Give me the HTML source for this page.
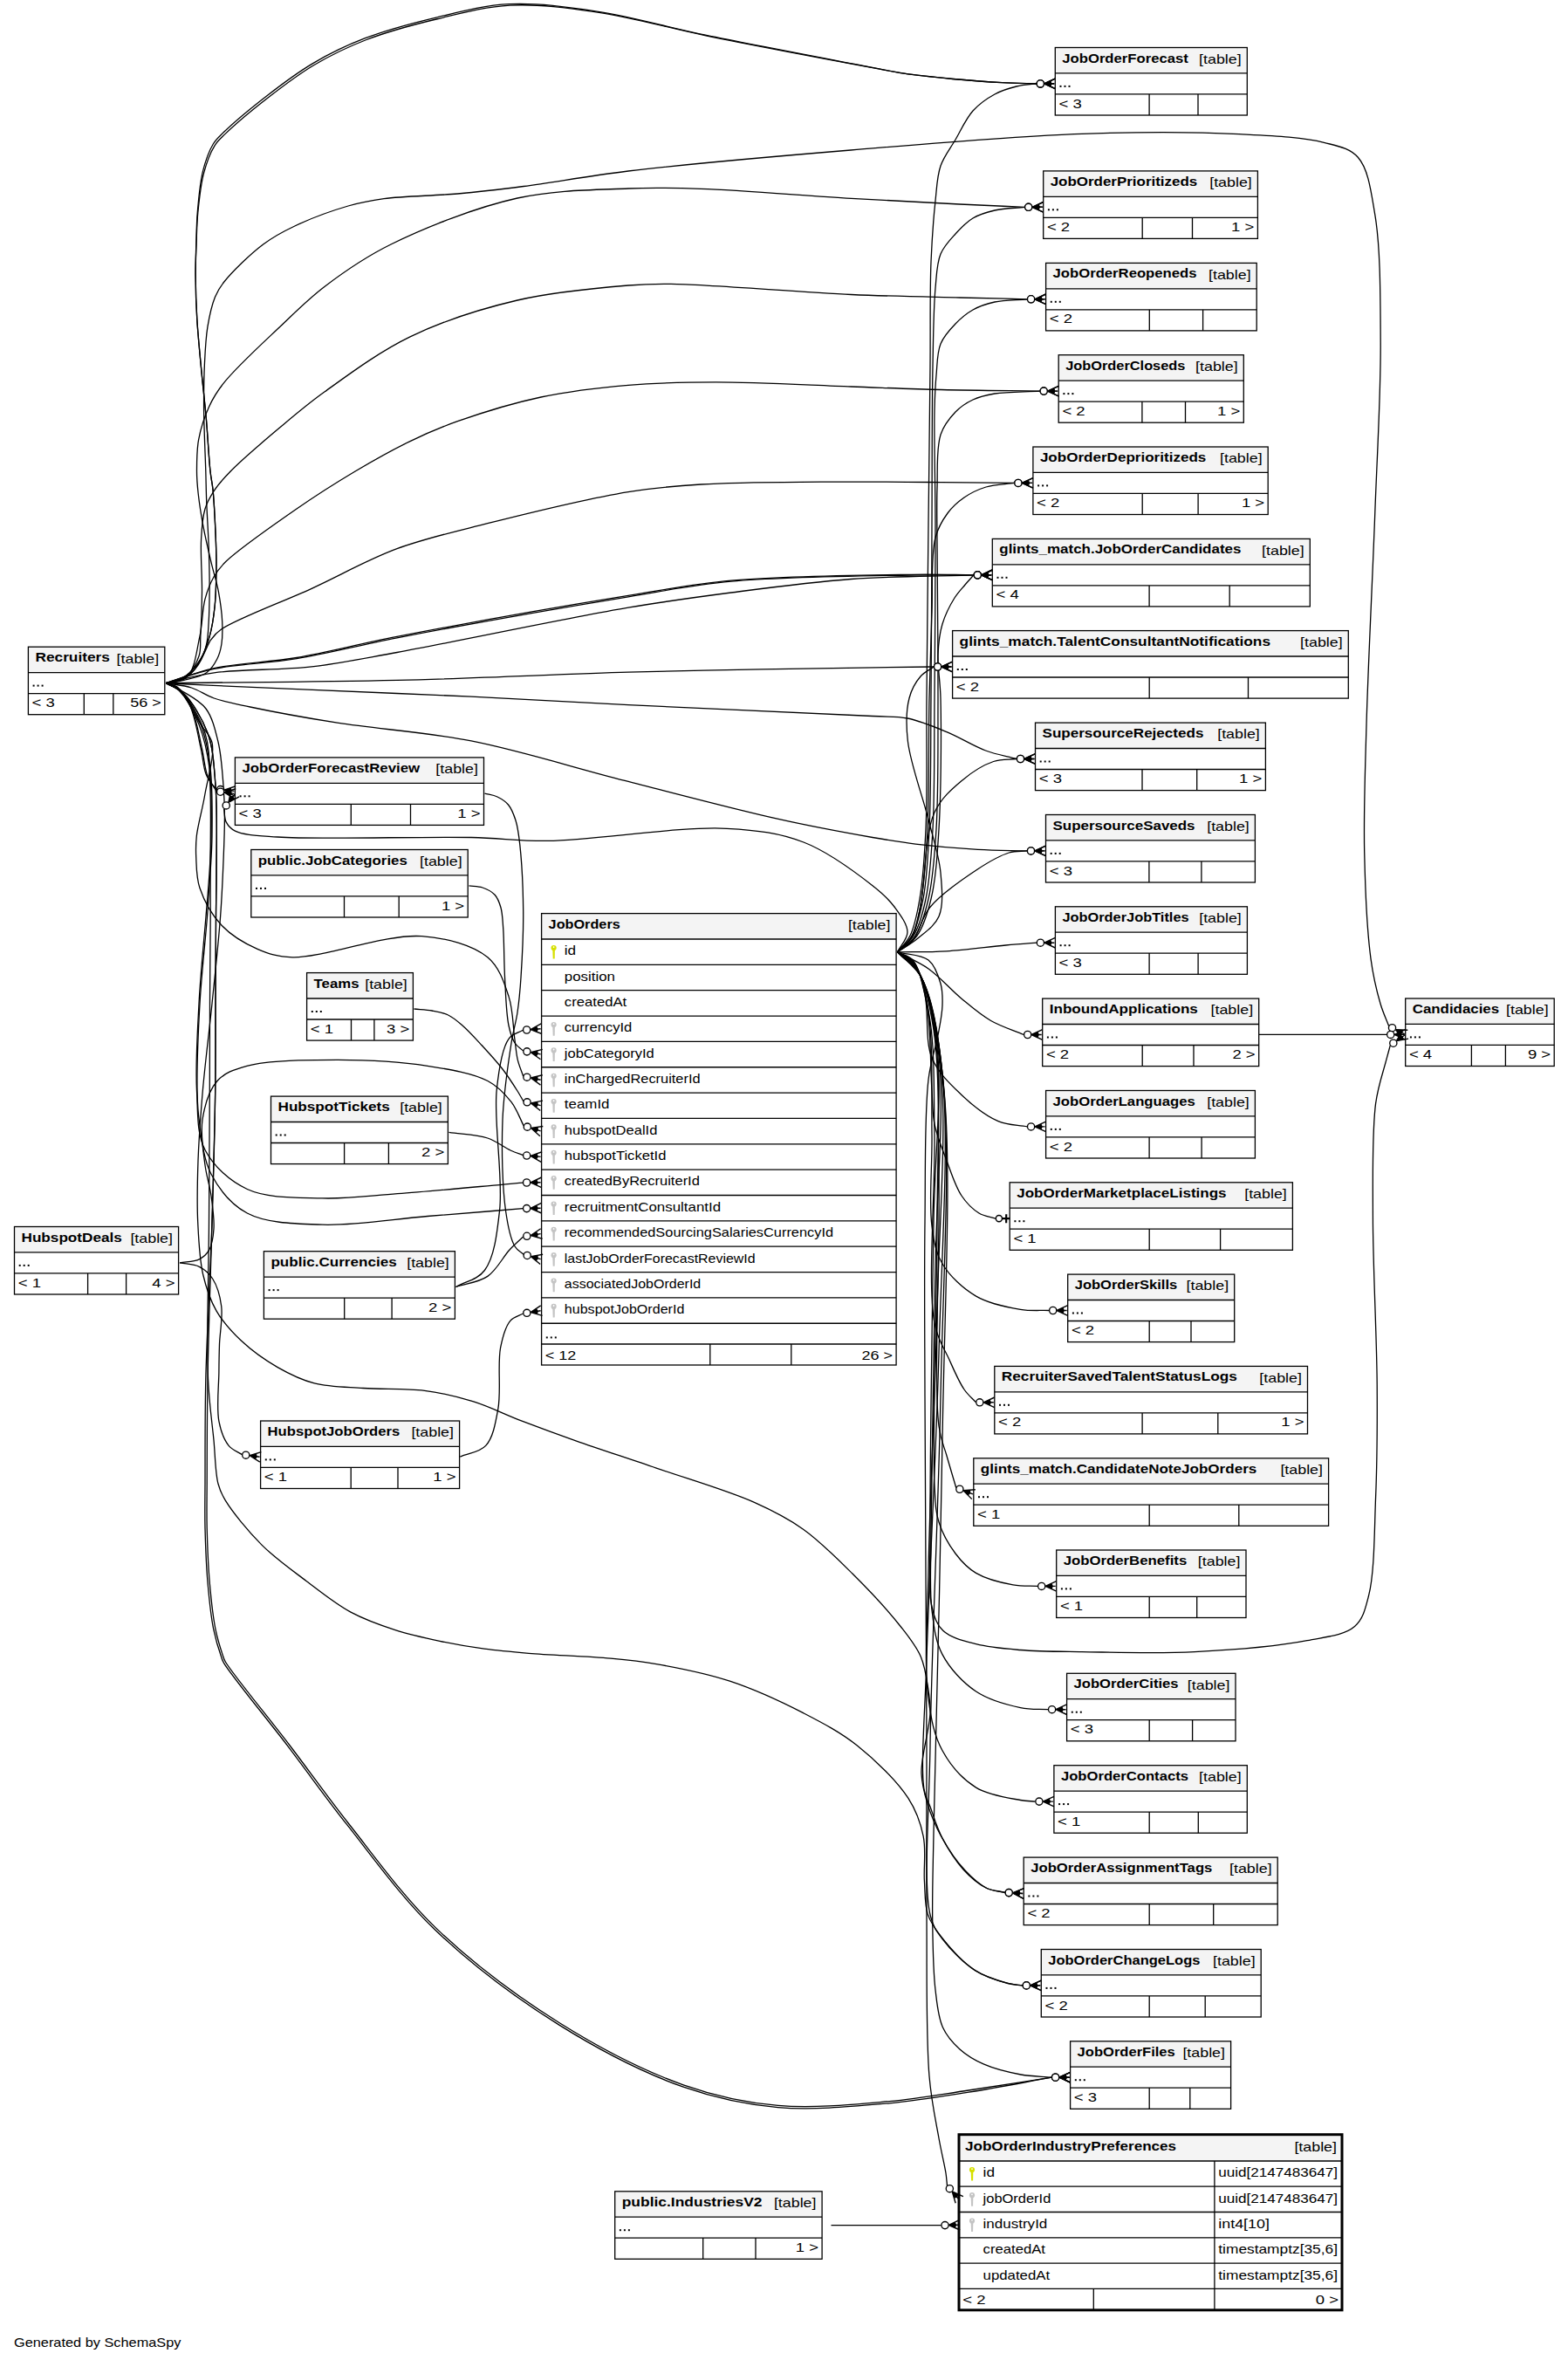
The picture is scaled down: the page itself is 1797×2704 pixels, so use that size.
<!DOCTYPE html>
<html><head><meta charset="utf-8"><style>
html,body{margin:0;padding:0;background:#fff;}
svg{display:block;}
text{font-family:"Liberation Sans",sans-serif;font-size:15px;fill:#000;stroke:none;}
</style></head><body>
<svg width="1797" height="2704" viewBox="0 0 1797 2704">
<g fill="none" stroke="#000" stroke-width="1.3">
<rect x="1209.30" y="54.50" width="220.00" height="29.40" fill="#f4f4f4" stroke="none"/>
<rect x="1209.30" y="54.50" width="220.00" height="77.50" fill="none" class="s"/>
<path d="M1209.30,83.90H1429.30M1209.30,107.90H1429.30M1317.10,107.90V132.00M1373.00,107.90V132.00" class="s"/>
<text x="1217.30" y="71.50" textLength="144.46" lengthAdjust="spacingAndGlyphs" font-weight="bold">JobOrderForecast</text>
<text x="1374.10" y="72.80" textLength="48.60" lengthAdjust="spacingAndGlyphs">[table]</text>
<rect x="1214.50" y="97.90" width="2.0" height="2.0" fill="#000" stroke="none"/>
<rect x="1219.50" y="97.90" width="2.0" height="2.0" fill="#000" stroke="none"/>
<rect x="1224.50" y="97.90" width="2.0" height="2.0" fill="#000" stroke="none"/>
<text x="1213.50" y="123.50" textLength="26.29" lengthAdjust="spacingAndGlyphs">&lt; 3</text>
<rect x="1195.70" y="195.90" width="245.70" height="29.40" fill="#f4f4f4" stroke="none"/>
<rect x="1195.70" y="195.90" width="245.70" height="77.50" fill="none" class="s"/>
<path d="M1195.70,225.30H1441.40M1195.70,249.30H1441.40M1309.20,249.30V273.40M1366.50,249.30V273.40" class="s"/>
<text x="1203.70" y="212.90" textLength="168.55" lengthAdjust="spacingAndGlyphs" font-weight="bold">JobOrderPrioritizeds</text>
<text x="1386.20" y="214.20" textLength="48.60" lengthAdjust="spacingAndGlyphs">[table]</text>
<rect x="1200.90" y="239.30" width="2.0" height="2.0" fill="#000" stroke="none"/>
<rect x="1205.90" y="239.30" width="2.0" height="2.0" fill="#000" stroke="none"/>
<rect x="1210.90" y="239.30" width="2.0" height="2.0" fill="#000" stroke="none"/>
<text x="1199.90" y="264.90" textLength="26.29" lengthAdjust="spacingAndGlyphs">&lt; 2</text>
<text x="1411.11" y="264.90" textLength="26.29" lengthAdjust="spacingAndGlyphs">1 &gt;</text>
<rect x="1198.60" y="301.40" width="241.60" height="29.40" fill="#f4f4f4" stroke="none"/>
<rect x="1198.60" y="301.40" width="241.60" height="77.50" fill="none" class="s"/>
<path d="M1198.60,330.80H1440.20M1198.60,354.80H1440.20M1317.30,354.80V378.90M1378.60,354.80V378.90" class="s"/>
<text x="1206.60" y="318.40" textLength="164.83" lengthAdjust="spacingAndGlyphs" font-weight="bold">JobOrderReopeneds</text>
<text x="1385.00" y="319.70" textLength="48.60" lengthAdjust="spacingAndGlyphs">[table]</text>
<rect x="1203.80" y="344.80" width="2.0" height="2.0" fill="#000" stroke="none"/>
<rect x="1208.80" y="344.80" width="2.0" height="2.0" fill="#000" stroke="none"/>
<rect x="1213.80" y="344.80" width="2.0" height="2.0" fill="#000" stroke="none"/>
<text x="1202.80" y="370.40" textLength="26.29" lengthAdjust="spacingAndGlyphs">&lt; 2</text>
<rect x="1213.20" y="406.70" width="212.10" height="29.40" fill="#f4f4f4" stroke="none"/>
<rect x="1213.20" y="406.70" width="212.10" height="77.50" fill="none" class="s"/>
<path d="M1213.20,436.10H1425.30M1213.20,460.10H1425.30M1308.90,460.10V484.20M1358.50,460.10V484.20" class="s"/>
<text x="1221.20" y="423.70" textLength="137.21" lengthAdjust="spacingAndGlyphs" font-weight="bold">JobOrderCloseds</text>
<text x="1370.10" y="425.00" textLength="48.60" lengthAdjust="spacingAndGlyphs">[table]</text>
<rect x="1218.40" y="450.10" width="2.0" height="2.0" fill="#000" stroke="none"/>
<rect x="1223.40" y="450.10" width="2.0" height="2.0" fill="#000" stroke="none"/>
<rect x="1228.40" y="450.10" width="2.0" height="2.0" fill="#000" stroke="none"/>
<text x="1217.40" y="475.70" textLength="26.29" lengthAdjust="spacingAndGlyphs">&lt; 2</text>
<text x="1395.01" y="475.70" textLength="26.29" lengthAdjust="spacingAndGlyphs">1 &gt;</text>
<rect x="1183.90" y="512.00" width="269.30" height="29.40" fill="#f4f4f4" stroke="none"/>
<rect x="1183.90" y="512.00" width="269.30" height="77.50" fill="none" class="s"/>
<path d="M1183.90,541.40H1453.20M1183.90,565.40H1453.20M1309.20,565.40V589.50M1373.10,565.40V589.50" class="s"/>
<text x="1191.90" y="529.00" textLength="190.42" lengthAdjust="spacingAndGlyphs" font-weight="bold">JobOrderDeprioritizeds</text>
<text x="1398.00" y="530.30" textLength="48.60" lengthAdjust="spacingAndGlyphs">[table]</text>
<rect x="1189.10" y="555.40" width="2.0" height="2.0" fill="#000" stroke="none"/>
<rect x="1194.10" y="555.40" width="2.0" height="2.0" fill="#000" stroke="none"/>
<rect x="1199.10" y="555.40" width="2.0" height="2.0" fill="#000" stroke="none"/>
<text x="1188.10" y="581.00" textLength="26.29" lengthAdjust="spacingAndGlyphs">&lt; 2</text>
<text x="1422.91" y="581.00" textLength="26.29" lengthAdjust="spacingAndGlyphs">1 &gt;</text>
<rect x="1137.30" y="617.40" width="364.00" height="29.40" fill="#f4f4f4" stroke="none"/>
<rect x="1137.30" y="617.40" width="364.00" height="77.50" fill="none" class="s"/>
<path d="M1137.30,646.80H1501.30M1137.30,670.80H1501.30M1317.10,670.80V694.90M1409.20,670.80V694.90" class="s"/>
<text x="1145.30" y="634.40" textLength="277.15" lengthAdjust="spacingAndGlyphs" font-weight="bold">glints_match.JobOrderCandidates</text>
<text x="1446.10" y="635.70" textLength="48.60" lengthAdjust="spacingAndGlyphs">[table]</text>
<rect x="1142.50" y="660.80" width="2.0" height="2.0" fill="#000" stroke="none"/>
<rect x="1147.50" y="660.80" width="2.0" height="2.0" fill="#000" stroke="none"/>
<rect x="1152.50" y="660.80" width="2.0" height="2.0" fill="#000" stroke="none"/>
<text x="1141.50" y="686.40" textLength="26.29" lengthAdjust="spacingAndGlyphs">&lt; 4</text>
<rect x="1091.60" y="722.60" width="453.70" height="29.40" fill="#f4f4f4" stroke="none"/>
<rect x="1091.60" y="722.60" width="453.70" height="77.50" fill="none" class="s"/>
<path d="M1091.60,752.00H1545.30M1091.60,776.00H1545.30M1317.20,776.00V800.10M1430.50,776.00V800.10" class="s"/>
<text x="1099.60" y="739.60" textLength="356.46" lengthAdjust="spacingAndGlyphs" font-weight="bold">glints_match.TalentConsultantNotifications</text>
<text x="1490.10" y="740.90" textLength="48.60" lengthAdjust="spacingAndGlyphs">[table]</text>
<rect x="1096.80" y="766.00" width="2.0" height="2.0" fill="#000" stroke="none"/>
<rect x="1101.80" y="766.00" width="2.0" height="2.0" fill="#000" stroke="none"/>
<rect x="1106.80" y="766.00" width="2.0" height="2.0" fill="#000" stroke="none"/>
<text x="1095.80" y="791.60" textLength="26.29" lengthAdjust="spacingAndGlyphs">&lt; 2</text>
<rect x="1186.50" y="828.10" width="263.90" height="29.40" fill="#f4f4f4" stroke="none"/>
<rect x="1186.50" y="828.10" width="263.90" height="77.50" fill="none" class="s"/>
<path d="M1186.50,857.50H1450.40M1186.50,881.50H1450.40M1309.00,881.50V905.60M1371.70,881.50V905.60" class="s"/>
<text x="1194.50" y="845.10" textLength="184.94" lengthAdjust="spacingAndGlyphs" font-weight="bold">SupersourceRejecteds</text>
<text x="1395.20" y="846.40" textLength="48.60" lengthAdjust="spacingAndGlyphs">[table]</text>
<rect x="1191.70" y="871.50" width="2.0" height="2.0" fill="#000" stroke="none"/>
<rect x="1196.70" y="871.50" width="2.0" height="2.0" fill="#000" stroke="none"/>
<rect x="1201.70" y="871.50" width="2.0" height="2.0" fill="#000" stroke="none"/>
<text x="1190.70" y="897.10" textLength="26.29" lengthAdjust="spacingAndGlyphs">&lt; 3</text>
<text x="1420.11" y="897.10" textLength="26.29" lengthAdjust="spacingAndGlyphs">1 &gt;</text>
<rect x="1198.50" y="933.50" width="239.90" height="29.40" fill="#f4f4f4" stroke="none"/>
<rect x="1198.50" y="933.50" width="239.90" height="77.50" fill="none" class="s"/>
<path d="M1198.50,962.90H1438.40M1198.50,986.90H1438.40M1316.90,986.90V1011.00M1376.90,986.90V1011.00" class="s"/>
<text x="1206.50" y="950.50" textLength="163.04" lengthAdjust="spacingAndGlyphs" font-weight="bold">SupersourceSaveds</text>
<text x="1383.20" y="951.80" textLength="48.60" lengthAdjust="spacingAndGlyphs">[table]</text>
<rect x="1203.70" y="976.90" width="2.0" height="2.0" fill="#000" stroke="none"/>
<rect x="1208.70" y="976.90" width="2.0" height="2.0" fill="#000" stroke="none"/>
<rect x="1213.70" y="976.90" width="2.0" height="2.0" fill="#000" stroke="none"/>
<text x="1202.70" y="1002.50" textLength="26.29" lengthAdjust="spacingAndGlyphs">&lt; 3</text>
<rect x="1209.40" y="1038.80" width="220.00" height="29.40" fill="#f4f4f4" stroke="none"/>
<rect x="1209.40" y="1038.80" width="220.00" height="77.50" fill="none" class="s"/>
<path d="M1209.40,1068.20H1429.40M1209.40,1092.20H1429.40M1317.10,1092.20V1116.30M1373.10,1092.20V1116.30" class="s"/>
<text x="1217.40" y="1055.80" textLength="145.22" lengthAdjust="spacingAndGlyphs" font-weight="bold">JobOrderJobTitles</text>
<text x="1374.20" y="1057.10" textLength="48.60" lengthAdjust="spacingAndGlyphs">[table]</text>
<rect x="1214.60" y="1082.20" width="2.0" height="2.0" fill="#000" stroke="none"/>
<rect x="1219.60" y="1082.20" width="2.0" height="2.0" fill="#000" stroke="none"/>
<rect x="1224.60" y="1082.20" width="2.0" height="2.0" fill="#000" stroke="none"/>
<text x="1213.60" y="1107.80" textLength="26.29" lengthAdjust="spacingAndGlyphs">&lt; 3</text>
<rect x="1194.70" y="1144.10" width="248.00" height="29.40" fill="#f4f4f4" stroke="none"/>
<rect x="1194.70" y="1144.10" width="248.00" height="77.50" fill="none" class="s"/>
<path d="M1194.70,1173.50H1442.70M1194.70,1197.50H1442.70M1309.20,1197.50V1221.60M1368.00,1197.50V1221.60" class="s"/>
<text x="1202.70" y="1161.10" textLength="170.17" lengthAdjust="spacingAndGlyphs" font-weight="bold">InboundApplications</text>
<text x="1387.50" y="1162.40" textLength="48.60" lengthAdjust="spacingAndGlyphs">[table]</text>
<rect x="1199.90" y="1187.50" width="2.0" height="2.0" fill="#000" stroke="none"/>
<rect x="1204.90" y="1187.50" width="2.0" height="2.0" fill="#000" stroke="none"/>
<rect x="1209.90" y="1187.50" width="2.0" height="2.0" fill="#000" stroke="none"/>
<text x="1198.90" y="1213.10" textLength="26.29" lengthAdjust="spacingAndGlyphs">&lt; 2</text>
<text x="1412.41" y="1213.10" textLength="26.29" lengthAdjust="spacingAndGlyphs">2 &gt;</text>
<rect x="1198.60" y="1249.50" width="239.80" height="29.40" fill="#f4f4f4" stroke="none"/>
<rect x="1198.60" y="1249.50" width="239.80" height="77.50" fill="none" class="s"/>
<path d="M1198.60,1278.90H1438.40M1198.60,1302.90H1438.40M1317.10,1302.90V1327.00M1377.10,1302.90V1327.00" class="s"/>
<text x="1206.60" y="1266.50" textLength="163.14" lengthAdjust="spacingAndGlyphs" font-weight="bold">JobOrderLanguages</text>
<text x="1383.20" y="1267.80" textLength="48.60" lengthAdjust="spacingAndGlyphs">[table]</text>
<rect x="1203.80" y="1292.90" width="2.0" height="2.0" fill="#000" stroke="none"/>
<rect x="1208.80" y="1292.90" width="2.0" height="2.0" fill="#000" stroke="none"/>
<rect x="1213.80" y="1292.90" width="2.0" height="2.0" fill="#000" stroke="none"/>
<text x="1202.80" y="1318.50" textLength="26.29" lengthAdjust="spacingAndGlyphs">&lt; 2</text>
<rect x="1157.20" y="1354.80" width="324.20" height="29.40" fill="#f4f4f4" stroke="none"/>
<rect x="1157.20" y="1354.80" width="324.20" height="77.50" fill="none" class="s"/>
<path d="M1157.20,1384.20H1481.40M1157.20,1408.20H1481.40M1317.20,1408.20V1432.30M1398.60,1408.20V1432.30" class="s"/>
<text x="1165.20" y="1371.80" textLength="240.38" lengthAdjust="spacingAndGlyphs" font-weight="bold">JobOrderMarketplaceListings</text>
<text x="1426.20" y="1373.10" textLength="48.60" lengthAdjust="spacingAndGlyphs">[table]</text>
<rect x="1162.40" y="1398.20" width="2.0" height="2.0" fill="#000" stroke="none"/>
<rect x="1167.40" y="1398.20" width="2.0" height="2.0" fill="#000" stroke="none"/>
<rect x="1172.40" y="1398.20" width="2.0" height="2.0" fill="#000" stroke="none"/>
<text x="1161.40" y="1423.80" textLength="26.29" lengthAdjust="spacingAndGlyphs">&lt; 1</text>
<rect x="1223.70" y="1460.10" width="191.00" height="29.40" fill="#f4f4f4" stroke="none"/>
<rect x="1223.70" y="1460.10" width="191.00" height="77.50" fill="none" class="s"/>
<path d="M1223.70,1489.50H1414.70M1223.70,1513.50H1414.70M1317.20,1513.50V1537.60M1365.00,1513.50V1537.60" class="s"/>
<text x="1231.70" y="1477.10" textLength="117.57" lengthAdjust="spacingAndGlyphs" font-weight="bold">JobOrderSkills</text>
<text x="1359.50" y="1478.40" textLength="48.60" lengthAdjust="spacingAndGlyphs">[table]</text>
<rect x="1228.90" y="1503.50" width="2.0" height="2.0" fill="#000" stroke="none"/>
<rect x="1233.90" y="1503.50" width="2.0" height="2.0" fill="#000" stroke="none"/>
<rect x="1238.90" y="1503.50" width="2.0" height="2.0" fill="#000" stroke="none"/>
<text x="1227.90" y="1529.10" textLength="26.29" lengthAdjust="spacingAndGlyphs">&lt; 2</text>
<rect x="1139.80" y="1565.40" width="358.70" height="29.40" fill="#f4f4f4" stroke="none"/>
<rect x="1139.80" y="1565.40" width="358.70" height="77.50" fill="none" class="s"/>
<path d="M1139.80,1594.80H1498.50M1139.80,1618.80H1498.50M1309.10,1618.80V1642.90M1395.80,1618.80V1642.90" class="s"/>
<text x="1147.80" y="1582.40" textLength="270.10" lengthAdjust="spacingAndGlyphs" font-weight="bold">RecruiterSavedTalentStatusLogs</text>
<text x="1443.30" y="1583.70" textLength="48.60" lengthAdjust="spacingAndGlyphs">[table]</text>
<rect x="1145.00" y="1608.80" width="2.0" height="2.0" fill="#000" stroke="none"/>
<rect x="1150.00" y="1608.80" width="2.0" height="2.0" fill="#000" stroke="none"/>
<rect x="1155.00" y="1608.80" width="2.0" height="2.0" fill="#000" stroke="none"/>
<text x="1144.00" y="1634.40" textLength="26.29" lengthAdjust="spacingAndGlyphs">&lt; 2</text>
<text x="1468.21" y="1634.40" textLength="26.29" lengthAdjust="spacingAndGlyphs">1 &gt;</text>
<rect x="1115.80" y="1670.80" width="406.80" height="29.40" fill="#f4f4f4" stroke="none"/>
<rect x="1115.80" y="1670.80" width="406.80" height="77.50" fill="none" class="s"/>
<path d="M1115.80,1700.20H1522.60M1115.80,1724.20H1522.60M1317.20,1724.20V1748.30M1419.80,1724.20V1748.30" class="s"/>
<text x="1123.80" y="1687.80" textLength="316.47" lengthAdjust="spacingAndGlyphs" font-weight="bold">glints_match.CandidateNoteJobOrders</text>
<text x="1467.40" y="1689.10" textLength="48.60" lengthAdjust="spacingAndGlyphs">[table]</text>
<rect x="1121.00" y="1714.20" width="2.0" height="2.0" fill="#000" stroke="none"/>
<rect x="1126.00" y="1714.20" width="2.0" height="2.0" fill="#000" stroke="none"/>
<rect x="1131.00" y="1714.20" width="2.0" height="2.0" fill="#000" stroke="none"/>
<text x="1120.00" y="1739.80" textLength="26.29" lengthAdjust="spacingAndGlyphs">&lt; 1</text>
<rect x="1210.70" y="1776.00" width="217.30" height="29.40" fill="#f4f4f4" stroke="none"/>
<rect x="1210.70" y="1776.00" width="217.30" height="77.50" fill="none" class="s"/>
<path d="M1210.70,1805.40H1428.00M1210.70,1829.40H1428.00M1317.20,1829.40V1853.50M1371.70,1829.40V1853.50" class="s"/>
<text x="1218.70" y="1793.00" textLength="141.57" lengthAdjust="spacingAndGlyphs" font-weight="bold">JobOrderBenefits</text>
<text x="1372.80" y="1794.30" textLength="48.60" lengthAdjust="spacingAndGlyphs">[table]</text>
<rect x="1215.90" y="1819.40" width="2.0" height="2.0" fill="#000" stroke="none"/>
<rect x="1220.90" y="1819.40" width="2.0" height="2.0" fill="#000" stroke="none"/>
<rect x="1225.90" y="1819.40" width="2.0" height="2.0" fill="#000" stroke="none"/>
<text x="1214.90" y="1845.00" textLength="26.29" lengthAdjust="spacingAndGlyphs">&lt; 1</text>
<rect x="1222.60" y="1917.30" width="193.40" height="29.40" fill="#f4f4f4" stroke="none"/>
<rect x="1222.60" y="1917.30" width="193.40" height="77.50" fill="none" class="s"/>
<path d="M1222.60,1946.70H1416.00M1222.60,1970.70H1416.00M1317.20,1970.70V1994.80M1366.60,1970.70V1994.80" class="s"/>
<text x="1230.60" y="1934.30" textLength="119.95" lengthAdjust="spacingAndGlyphs" font-weight="bold">JobOrderCities</text>
<text x="1360.80" y="1935.60" textLength="48.60" lengthAdjust="spacingAndGlyphs">[table]</text>
<rect x="1227.80" y="1960.70" width="2.0" height="2.0" fill="#000" stroke="none"/>
<rect x="1232.80" y="1960.70" width="2.0" height="2.0" fill="#000" stroke="none"/>
<rect x="1237.80" y="1960.70" width="2.0" height="2.0" fill="#000" stroke="none"/>
<text x="1226.80" y="1986.30" textLength="26.29" lengthAdjust="spacingAndGlyphs">&lt; 3</text>
<rect x="1207.90" y="2022.70" width="221.40" height="29.40" fill="#f4f4f4" stroke="none"/>
<rect x="1207.90" y="2022.70" width="221.40" height="77.50" fill="none" class="s"/>
<path d="M1207.90,2052.10H1429.30M1207.90,2076.10H1429.30M1317.20,2076.10V2100.20M1373.30,2076.10V2100.20" class="s"/>
<text x="1215.90" y="2039.70" textLength="146.07" lengthAdjust="spacingAndGlyphs" font-weight="bold">JobOrderContacts</text>
<text x="1374.10" y="2041.00" textLength="48.60" lengthAdjust="spacingAndGlyphs">[table]</text>
<rect x="1213.10" y="2066.10" width="2.0" height="2.0" fill="#000" stroke="none"/>
<rect x="1218.10" y="2066.10" width="2.0" height="2.0" fill="#000" stroke="none"/>
<rect x="1223.10" y="2066.10" width="2.0" height="2.0" fill="#000" stroke="none"/>
<text x="1212.10" y="2091.70" textLength="26.29" lengthAdjust="spacingAndGlyphs">&lt; 1</text>
<rect x="1173.20" y="2128.10" width="291.00" height="29.40" fill="#f4f4f4" stroke="none"/>
<rect x="1173.20" y="2128.10" width="291.00" height="77.50" fill="none" class="s"/>
<path d="M1173.20,2157.50H1464.20M1173.20,2181.50H1464.20M1317.20,2181.50V2205.60M1390.70,2181.50V2205.60" class="s"/>
<text x="1181.20" y="2145.10" textLength="208.16" lengthAdjust="spacingAndGlyphs" font-weight="bold">JobOrderAssignmentTags</text>
<text x="1409.00" y="2146.40" textLength="48.60" lengthAdjust="spacingAndGlyphs">[table]</text>
<rect x="1178.40" y="2171.50" width="2.0" height="2.0" fill="#000" stroke="none"/>
<rect x="1183.40" y="2171.50" width="2.0" height="2.0" fill="#000" stroke="none"/>
<rect x="1188.40" y="2171.50" width="2.0" height="2.0" fill="#000" stroke="none"/>
<text x="1177.40" y="2197.10" textLength="26.29" lengthAdjust="spacingAndGlyphs">&lt; 2</text>
<rect x="1193.30" y="2233.50" width="251.90" height="29.40" fill="#f4f4f4" stroke="none"/>
<rect x="1193.30" y="2233.50" width="251.90" height="77.50" fill="none" class="s"/>
<path d="M1193.30,2262.90H1445.20M1193.30,2286.90H1445.20M1317.20,2286.90V2311.00M1381.20,2286.90V2311.00" class="s"/>
<text x="1201.30" y="2250.50" textLength="174.09" lengthAdjust="spacingAndGlyphs" font-weight="bold">JobOrderChangeLogs</text>
<text x="1390.00" y="2251.80" textLength="48.60" lengthAdjust="spacingAndGlyphs">[table]</text>
<rect x="1198.50" y="2276.90" width="2.0" height="2.0" fill="#000" stroke="none"/>
<rect x="1203.50" y="2276.90" width="2.0" height="2.0" fill="#000" stroke="none"/>
<rect x="1208.50" y="2276.90" width="2.0" height="2.0" fill="#000" stroke="none"/>
<text x="1197.50" y="2302.50" textLength="26.29" lengthAdjust="spacingAndGlyphs">&lt; 2</text>
<rect x="1226.60" y="2338.80" width="184.00" height="29.40" fill="#f4f4f4" stroke="none"/>
<rect x="1226.60" y="2338.80" width="184.00" height="77.50" fill="none" class="s"/>
<path d="M1226.60,2368.20H1410.60M1226.60,2392.20H1410.60M1317.20,2392.20V2416.30M1363.80,2392.20V2416.30" class="s"/>
<text x="1234.60" y="2355.80" textLength="112.19" lengthAdjust="spacingAndGlyphs" font-weight="bold">JobOrderFiles</text>
<text x="1355.40" y="2357.10" textLength="48.60" lengthAdjust="spacingAndGlyphs">[table]</text>
<rect x="1231.80" y="2382.20" width="2.0" height="2.0" fill="#000" stroke="none"/>
<rect x="1236.80" y="2382.20" width="2.0" height="2.0" fill="#000" stroke="none"/>
<rect x="1241.80" y="2382.20" width="2.0" height="2.0" fill="#000" stroke="none"/>
<text x="1230.80" y="2407.80" textLength="26.29" lengthAdjust="spacingAndGlyphs">&lt; 3</text>
<rect x="32.40" y="741.20" width="156.40" height="29.40" fill="#f4f4f4" stroke="none"/>
<rect x="32.40" y="741.20" width="156.40" height="77.50" fill="none" class="s"/>
<path d="M32.40,770.60H188.80M32.40,794.60H188.80M96.30,794.60V818.70M129.80,794.60V818.70" class="s"/>
<text x="40.40" y="758.20" textLength="85.58" lengthAdjust="spacingAndGlyphs" font-weight="bold">Recruiters</text>
<text x="133.60" y="759.50" textLength="48.60" lengthAdjust="spacingAndGlyphs">[table]</text>
<rect x="37.60" y="784.60" width="2.0" height="2.0" fill="#000" stroke="none"/>
<rect x="42.60" y="784.60" width="2.0" height="2.0" fill="#000" stroke="none"/>
<rect x="47.60" y="784.60" width="2.0" height="2.0" fill="#000" stroke="none"/>
<text x="36.60" y="810.20" textLength="26.29" lengthAdjust="spacingAndGlyphs">&lt; 3</text>
<text x="149.18" y="810.20" textLength="35.62" lengthAdjust="spacingAndGlyphs">56 &gt;</text>
<rect x="269.40" y="867.90" width="285.10" height="29.40" fill="#f4f4f4" stroke="none"/>
<rect x="269.40" y="867.90" width="285.10" height="77.50" fill="none" class="s"/>
<path d="M269.40,897.30H554.50M269.40,921.30H554.50M402.30,921.30V945.40M470.50,921.30V945.40" class="s"/>
<text x="277.40" y="884.90" textLength="203.80" lengthAdjust="spacingAndGlyphs" font-weight="bold">JobOrderForecastReview</text>
<text x="499.30" y="886.20" textLength="48.60" lengthAdjust="spacingAndGlyphs">[table]</text>
<rect x="274.60" y="911.30" width="2.0" height="2.0" fill="#000" stroke="none"/>
<rect x="279.60" y="911.30" width="2.0" height="2.0" fill="#000" stroke="none"/>
<rect x="284.60" y="911.30" width="2.0" height="2.0" fill="#000" stroke="none"/>
<text x="273.60" y="936.90" textLength="26.29" lengthAdjust="spacingAndGlyphs">&lt; 3</text>
<text x="524.21" y="936.90" textLength="26.29" lengthAdjust="spacingAndGlyphs">1 &gt;</text>
<rect x="287.80" y="973.50" width="248.40" height="29.40" fill="#f4f4f4" stroke="none"/>
<rect x="287.80" y="973.50" width="248.40" height="77.50" fill="none" class="s"/>
<path d="M287.80,1002.90H536.20M287.80,1026.90H536.20M394.50,1026.90V1051.00M457.20,1026.90V1051.00" class="s"/>
<text x="295.80" y="990.50" textLength="170.96" lengthAdjust="spacingAndGlyphs" font-weight="bold">public.JobCategories</text>
<text x="481.00" y="991.80" textLength="48.60" lengthAdjust="spacingAndGlyphs">[table]</text>
<rect x="293.00" y="1016.90" width="2.0" height="2.0" fill="#000" stroke="none"/>
<rect x="298.00" y="1016.90" width="2.0" height="2.0" fill="#000" stroke="none"/>
<rect x="303.00" y="1016.90" width="2.0" height="2.0" fill="#000" stroke="none"/>
<text x="505.91" y="1042.50" textLength="26.29" lengthAdjust="spacingAndGlyphs">1 &gt;</text>
<rect x="351.60" y="1114.60" width="121.80" height="29.40" fill="#f4f4f4" stroke="none"/>
<rect x="351.60" y="1114.60" width="121.80" height="77.50" fill="none" class="s"/>
<path d="M351.60,1144.00H473.40M351.60,1168.00H473.40M402.50,1168.00V1192.10M428.90,1168.00V1192.10" class="s"/>
<text x="359.60" y="1131.60" textLength="51.93" lengthAdjust="spacingAndGlyphs" font-weight="bold">Teams</text>
<text x="418.20" y="1132.90" textLength="48.60" lengthAdjust="spacingAndGlyphs">[table]</text>
<rect x="356.80" y="1158.00" width="2.0" height="2.0" fill="#000" stroke="none"/>
<rect x="361.80" y="1158.00" width="2.0" height="2.0" fill="#000" stroke="none"/>
<rect x="366.80" y="1158.00" width="2.0" height="2.0" fill="#000" stroke="none"/>
<text x="355.80" y="1183.60" textLength="26.29" lengthAdjust="spacingAndGlyphs">&lt; 1</text>
<text x="443.11" y="1183.60" textLength="26.29" lengthAdjust="spacingAndGlyphs">3 &gt;</text>
<rect x="310.50" y="1256.10" width="202.90" height="29.40" fill="#f4f4f4" stroke="none"/>
<rect x="310.50" y="1256.10" width="202.90" height="77.50" fill="none" class="s"/>
<path d="M310.50,1285.50H513.40M310.50,1309.50H513.40M394.60,1309.50V1333.60M445.40,1309.50V1333.60" class="s"/>
<text x="318.50" y="1273.10" textLength="128.33" lengthAdjust="spacingAndGlyphs" font-weight="bold">HubspotTickets</text>
<text x="458.20" y="1274.40" textLength="48.60" lengthAdjust="spacingAndGlyphs">[table]</text>
<rect x="315.70" y="1299.50" width="2.0" height="2.0" fill="#000" stroke="none"/>
<rect x="320.70" y="1299.50" width="2.0" height="2.0" fill="#000" stroke="none"/>
<rect x="325.70" y="1299.50" width="2.0" height="2.0" fill="#000" stroke="none"/>
<text x="483.11" y="1325.10" textLength="26.29" lengthAdjust="spacingAndGlyphs">2 &gt;</text>
<rect x="16.50" y="1405.50" width="188.10" height="29.40" fill="#f4f4f4" stroke="none"/>
<rect x="16.50" y="1405.50" width="188.10" height="77.50" fill="none" class="s"/>
<path d="M16.50,1434.90H204.60M16.50,1458.90H204.60M100.60,1458.90V1483.00M144.60,1458.90V1483.00" class="s"/>
<text x="24.50" y="1422.50" textLength="115.33" lengthAdjust="spacingAndGlyphs" font-weight="bold">HubspotDeals</text>
<text x="149.40" y="1423.80" textLength="48.60" lengthAdjust="spacingAndGlyphs">[table]</text>
<rect x="21.70" y="1448.90" width="2.0" height="2.0" fill="#000" stroke="none"/>
<rect x="26.70" y="1448.90" width="2.0" height="2.0" fill="#000" stroke="none"/>
<rect x="31.70" y="1448.90" width="2.0" height="2.0" fill="#000" stroke="none"/>
<text x="20.70" y="1474.50" textLength="26.29" lengthAdjust="spacingAndGlyphs">&lt; 1</text>
<text x="174.31" y="1474.50" textLength="26.29" lengthAdjust="spacingAndGlyphs">4 &gt;</text>
<rect x="302.40" y="1433.70" width="219.00" height="29.40" fill="#f4f4f4" stroke="none"/>
<rect x="302.40" y="1433.70" width="219.00" height="77.50" fill="none" class="s"/>
<path d="M302.40,1463.10H521.40M302.40,1487.10H521.40M394.70,1487.10V1511.20M449.10,1487.10V1511.20" class="s"/>
<text x="310.40" y="1450.70" textLength="144.25" lengthAdjust="spacingAndGlyphs" font-weight="bold">public.Currencies</text>
<text x="466.20" y="1452.00" textLength="48.60" lengthAdjust="spacingAndGlyphs">[table]</text>
<rect x="307.60" y="1477.10" width="2.0" height="2.0" fill="#000" stroke="none"/>
<rect x="312.60" y="1477.10" width="2.0" height="2.0" fill="#000" stroke="none"/>
<rect x="317.60" y="1477.10" width="2.0" height="2.0" fill="#000" stroke="none"/>
<text x="491.11" y="1502.70" textLength="26.29" lengthAdjust="spacingAndGlyphs">2 &gt;</text>
<rect x="298.60" y="1628.00" width="228.00" height="29.40" fill="#f4f4f4" stroke="none"/>
<rect x="298.60" y="1628.00" width="228.00" height="77.50" fill="none" class="s"/>
<path d="M298.60,1657.40H526.60M298.60,1681.40H526.60M402.20,1681.40V1705.50M456.00,1681.40V1705.50" class="s"/>
<text x="306.60" y="1645.00" textLength="151.70" lengthAdjust="spacingAndGlyphs" font-weight="bold">HubspotJobOrders</text>
<text x="471.40" y="1646.30" textLength="48.60" lengthAdjust="spacingAndGlyphs">[table]</text>
<rect x="303.80" y="1671.40" width="2.0" height="2.0" fill="#000" stroke="none"/>
<rect x="308.80" y="1671.40" width="2.0" height="2.0" fill="#000" stroke="none"/>
<rect x="313.80" y="1671.40" width="2.0" height="2.0" fill="#000" stroke="none"/>
<text x="302.80" y="1697.00" textLength="26.29" lengthAdjust="spacingAndGlyphs">&lt; 1</text>
<text x="496.31" y="1697.00" textLength="26.29" lengthAdjust="spacingAndGlyphs">1 &gt;</text>
<rect x="704.70" y="2510.80" width="237.40" height="29.40" fill="#f4f4f4" stroke="none"/>
<rect x="704.70" y="2510.80" width="237.40" height="77.50" fill="none" class="s"/>
<path d="M704.70,2540.20H942.10M704.70,2564.20H942.10M805.70,2564.20V2588.30M866.00,2564.20V2588.30" class="s"/>
<text x="712.70" y="2527.80" textLength="160.86" lengthAdjust="spacingAndGlyphs" font-weight="bold">public.IndustriesV2</text>
<text x="886.90" y="2529.10" textLength="48.60" lengthAdjust="spacingAndGlyphs">[table]</text>
<rect x="709.90" y="2554.20" width="2.0" height="2.0" fill="#000" stroke="none"/>
<rect x="714.90" y="2554.20" width="2.0" height="2.0" fill="#000" stroke="none"/>
<rect x="719.90" y="2554.20" width="2.0" height="2.0" fill="#000" stroke="none"/>
<text x="911.81" y="2579.80" textLength="26.29" lengthAdjust="spacingAndGlyphs">1 &gt;</text>
<rect x="1610.70" y="1144.00" width="170.50" height="29.40" fill="#f4f4f4" stroke="none"/>
<rect x="1610.70" y="1144.00" width="170.50" height="77.50" fill="none" class="s"/>
<path d="M1610.70,1173.40H1781.20M1610.70,1197.40H1781.20M1686.40,1197.40V1221.50M1725.40,1197.40V1221.50" class="s"/>
<text x="1618.70" y="1161.00" textLength="99.45" lengthAdjust="spacingAndGlyphs" font-weight="bold">Candidacies</text>
<text x="1726.00" y="1162.30" textLength="48.60" lengthAdjust="spacingAndGlyphs">[table]</text>
<rect x="1615.90" y="1187.40" width="2.0" height="2.0" fill="#000" stroke="none"/>
<rect x="1620.90" y="1187.40" width="2.0" height="2.0" fill="#000" stroke="none"/>
<rect x="1625.90" y="1187.40" width="2.0" height="2.0" fill="#000" stroke="none"/>
<text x="1614.90" y="1213.00" textLength="26.29" lengthAdjust="spacingAndGlyphs">&lt; 4</text>
<text x="1750.91" y="1213.00" textLength="26.29" lengthAdjust="spacingAndGlyphs">9 &gt;</text>
<rect x="620.6" y="1046.6" width="406.50" height="29.40" fill="#f4f4f4" stroke="none"/>
<rect x="620.6" y="1046.6" width="406.50" height="517.40" fill="none" class="s"/>
<path d="M620.6,1076.0H1027.1M620.6,1105.35H1027.1M620.6,1134.70H1027.1M620.6,1164.05H1027.1M620.6,1193.40H1027.1M620.6,1222.75H1027.1M620.6,1252.10H1027.1M620.6,1281.45H1027.1M620.6,1310.80H1027.1M620.6,1340.15H1027.1M620.6,1369.50H1027.1M620.6,1398.85H1027.1M620.6,1428.20H1027.1M620.6,1457.55H1027.1M620.6,1486.90H1027.1M620.6,1516.25H1027.1M620.6,1540.0H1027.1M813.8,1540.0V1564.0M906.8,1540.0V1564.0" class="s"/>
<text x="628.60" y="1063.90" textLength="82.16" lengthAdjust="spacingAndGlyphs" font-weight="bold">JobOrders</text>
<text x="971.90" y="1065.20" textLength="48.60" lengthAdjust="spacingAndGlyphs">[table]</text>
<g fill="#d6e000" stroke="none"><circle cx="634.60" cy="1086.00" r="3.1"/><path d="M633.30,1088.00L635.90,1088.00L635.70,1098.60L633.70,1098.60Z"/></g><circle cx="634.60" cy="1085.10" r="0.9" fill="#fff" stroke="none"/>
<text x="646.80" y="1094.30" textLength="13.39" lengthAdjust="spacingAndGlyphs">id</text>
<text x="646.80" y="1123.65" textLength="58.11" lengthAdjust="spacingAndGlyphs">position</text>
<text x="646.80" y="1153.00" textLength="71.41" lengthAdjust="spacingAndGlyphs">createdAt</text>
<g fill="#c4c4c4" stroke="none"><circle cx="634.60" cy="1174.05" r="3.1"/><path d="M633.30,1176.05L635.90,1176.05L635.70,1186.65L633.70,1186.65Z"/></g><circle cx="634.60" cy="1173.15" r="0.9" fill="#fff" stroke="none"/>
<text x="646.80" y="1182.35" textLength="77.56" lengthAdjust="spacingAndGlyphs">currencyId</text>
<g fill="#c4c4c4" stroke="none"><circle cx="634.60" cy="1203.40" r="3.1"/><path d="M633.30,1205.40L635.90,1205.40L635.70,1216.00L633.70,1216.00Z"/></g><circle cx="634.60" cy="1202.50" r="0.9" fill="#fff" stroke="none"/>
<text x="646.80" y="1211.70" textLength="103.02" lengthAdjust="spacingAndGlyphs">jobCategoryId</text>
<g fill="#c4c4c4" stroke="none"><circle cx="634.60" cy="1232.75" r="3.1"/><path d="M633.30,1234.75L635.90,1234.75L635.70,1245.35L633.70,1245.35Z"/></g><circle cx="634.60" cy="1231.85" r="0.9" fill="#fff" stroke="none"/>
<text x="646.80" y="1241.05" textLength="155.81" lengthAdjust="spacingAndGlyphs">inChargedRecruiterId</text>
<g fill="#c4c4c4" stroke="none"><circle cx="634.60" cy="1262.10" r="3.1"/><path d="M633.30,1264.10L635.90,1264.10L635.70,1274.70L633.70,1274.70Z"/></g><circle cx="634.60" cy="1261.20" r="0.9" fill="#fff" stroke="none"/>
<text x="646.80" y="1270.40" textLength="51.70" lengthAdjust="spacingAndGlyphs">teamId</text>
<g fill="#c4c4c4" stroke="none"><circle cx="634.60" cy="1291.45" r="3.1"/><path d="M633.30,1293.45L635.90,1293.45L635.70,1304.05L633.70,1304.05Z"/></g><circle cx="634.60" cy="1290.55" r="0.9" fill="#fff" stroke="none"/>
<text x="646.80" y="1299.75" textLength="106.62" lengthAdjust="spacingAndGlyphs">hubspotDealId</text>
<g fill="#c4c4c4" stroke="none"><circle cx="634.60" cy="1320.80" r="3.1"/><path d="M633.30,1322.80L635.90,1322.80L635.70,1333.40L633.70,1333.40Z"/></g><circle cx="634.60" cy="1319.90" r="0.9" fill="#fff" stroke="none"/>
<text x="646.80" y="1329.10" textLength="116.63" lengthAdjust="spacingAndGlyphs">hubspotTicketId</text>
<g fill="#c4c4c4" stroke="none"><circle cx="634.60" cy="1350.15" r="3.1"/><path d="M633.30,1352.15L635.90,1352.15L635.70,1362.75L633.70,1362.75Z"/></g><circle cx="634.60" cy="1349.25" r="0.9" fill="#fff" stroke="none"/>
<text x="646.80" y="1358.45" textLength="155.11" lengthAdjust="spacingAndGlyphs">createdByRecruiterId</text>
<g fill="#c4c4c4" stroke="none"><circle cx="634.60" cy="1379.50" r="3.1"/><path d="M633.30,1381.50L635.90,1381.50L635.70,1392.10L633.70,1392.10Z"/></g><circle cx="634.60" cy="1378.60" r="0.9" fill="#fff" stroke="none"/>
<text x="646.80" y="1387.80" textLength="179.28" lengthAdjust="spacingAndGlyphs">recruitmentConsultantId</text>
<g fill="#c4c4c4" stroke="none"><circle cx="634.60" cy="1408.85" r="3.1"/><path d="M633.30,1410.85L635.90,1410.85L635.70,1421.45L633.70,1421.45Z"/></g><circle cx="634.60" cy="1407.95" r="0.9" fill="#fff" stroke="none"/>
<text x="646.80" y="1417.15" textLength="308.26" lengthAdjust="spacingAndGlyphs">recommendedSourcingSalariesCurrencyId</text>
<g fill="#c4c4c4" stroke="none"><circle cx="634.60" cy="1438.20" r="3.1"/><path d="M633.30,1440.20L635.90,1440.20L635.70,1450.80L633.70,1450.80Z"/></g><circle cx="634.60" cy="1437.30" r="0.9" fill="#fff" stroke="none"/>
<text x="646.80" y="1446.50" textLength="218.83" lengthAdjust="spacingAndGlyphs">lastJobOrderForecastReviewId</text>
<g fill="#c4c4c4" stroke="none"><circle cx="634.60" cy="1467.55" r="3.1"/><path d="M633.30,1469.55L635.90,1469.55L635.70,1480.15L633.70,1480.15Z"/></g><circle cx="634.60" cy="1466.65" r="0.9" fill="#fff" stroke="none"/>
<text x="646.80" y="1475.85" textLength="156.42" lengthAdjust="spacingAndGlyphs">associatedJobOrderId</text>
<g fill="#c4c4c4" stroke="none"><circle cx="634.60" cy="1496.90" r="3.1"/><path d="M633.30,1498.90L635.90,1498.90L635.70,1509.50L633.70,1509.50Z"/></g><circle cx="634.60" cy="1496.00" r="0.9" fill="#fff" stroke="none"/>
<text x="646.80" y="1505.20" textLength="137.54" lengthAdjust="spacingAndGlyphs">hubspotJobOrderId</text>
<rect x="625.80" y="1531.45" width="2.0" height="2.0" fill="#000" stroke="none"/>
<rect x="630.80" y="1531.45" width="2.0" height="2.0" fill="#000" stroke="none"/>
<rect x="635.80" y="1531.45" width="2.0" height="2.0" fill="#000" stroke="none"/>
<text x="624.80" y="1557.50" textLength="35.62" lengthAdjust="spacingAndGlyphs">&lt; 12</text>
<text x="987.48" y="1557.50" textLength="35.62" lengthAdjust="spacingAndGlyphs">26 &gt;</text>
<rect x="1099.0" y="2445.7" width="439.00" height="30.30" fill="#f4f4f4" stroke="none"/>
<path d="M1099.0,2476.0H1538.0M1099.0,2505.2H1538.0M1099.0,2534.5H1538.0M1099.0,2563.8H1538.0M1099.0,2593.1H1538.0M1099.0,2622.4H1538.0M1391.9,2476.0V2646.8M1253.3,2622.4V2646.8" class="s"/>
<rect x="1099.0" y="2445.7" width="439.00" height="201.10" fill="none" stroke-width="3"/>
<text x="1106.00" y="2463.80" textLength="242.09" lengthAdjust="spacingAndGlyphs" font-weight="bold">JobOrderIndustryPreferences</text>
<text x="1483.40" y="2465.10" textLength="48.60" lengthAdjust="spacingAndGlyphs">[table]</text>
<g fill="#d6e000" stroke="none"><circle cx="1114.00" cy="2486.00" r="3.1"/><path d="M1112.70,2488.00L1115.30,2488.00L1115.10,2498.60L1113.10,2498.60Z"/></g><circle cx="1114.00" cy="2485.10" r="0.9" fill="#fff" stroke="none"/>
<text x="1126.60" y="2494.40" textLength="13.39" lengthAdjust="spacingAndGlyphs">id</text>
<text x="1396.30" y="2494.40" textLength="136.77" lengthAdjust="spacingAndGlyphs">uuid[2147483647]</text>
<g fill="#c4c4c4" stroke="none"><circle cx="1114.00" cy="2515.20" r="3.1"/><path d="M1112.70,2517.20L1115.30,2517.20L1115.10,2527.80L1113.10,2527.80Z"/></g><circle cx="1114.00" cy="2514.30" r="0.9" fill="#fff" stroke="none"/>
<text x="1126.60" y="2523.60" textLength="77.70" lengthAdjust="spacingAndGlyphs">jobOrderId</text>
<text x="1396.30" y="2523.60" textLength="136.77" lengthAdjust="spacingAndGlyphs">uuid[2147483647]</text>
<g fill="#c4c4c4" stroke="none"><circle cx="1114.00" cy="2544.50" r="3.1"/><path d="M1112.70,2546.50L1115.30,2546.50L1115.10,2557.10L1113.10,2557.10Z"/></g><circle cx="1114.00" cy="2543.60" r="0.9" fill="#fff" stroke="none"/>
<text x="1126.60" y="2552.90" textLength="73.73" lengthAdjust="spacingAndGlyphs">industryId</text>
<text x="1396.30" y="2552.90" textLength="58.57" lengthAdjust="spacingAndGlyphs">int4[10]</text>
<text x="1126.60" y="2582.20" textLength="71.41" lengthAdjust="spacingAndGlyphs">createdAt</text>
<text x="1396.30" y="2582.20" textLength="136.69" lengthAdjust="spacingAndGlyphs">timestamptz[35,6]</text>
<text x="1126.60" y="2611.50" textLength="76.53" lengthAdjust="spacingAndGlyphs">updatedAt</text>
<text x="1396.30" y="2611.50" textLength="136.69" lengthAdjust="spacingAndGlyphs">timestamptz[35,6]</text>
<text x="1103.20" y="2639.90" textLength="26.29" lengthAdjust="spacingAndGlyphs">&lt; 2</text>
<text x="1507.71" y="2639.90" textLength="26.29" lengthAdjust="spacingAndGlyphs">0 &gt;</text>
<text x="16.00" y="2689.40" textLength="191.44" lengthAdjust="spacingAndGlyphs">Generated by SchemaSpy</text>
<path d="M190.3,782.7C197.1,780.4 204.6,779.9 210.8,775.9C217.9,771.3 224.9,763.1 229.8,755.3C234.7,747.6 237.4,738.8 240.1,729.4C243.1,718.9 244.8,707.7 246.1,695.0C247.7,679.6 247.9,660.5 247.9,643.3C247.9,626.1 246.9,606.8 246.1,591.7C245.5,579.8 244.9,569.3 243.9,560.0C243.1,552.6 241.9,548.5 241.0,540.0C239.3,525.0 238.0,497.7 236.2,478.0C234.6,460.0 232.7,444.3 231.0,426.4C229.2,407.1 227.0,385.4 225.8,366.1C224.7,348.2 224.2,329.9 224.1,314.4C224.1,301.8 224.6,291.6 225.0,280.0C225.5,268.1 225.5,256.5 226.8,243.7C228.2,229.3 230.0,211.4 233.7,197.8C236.8,186.3 241.0,175.0 245.9,167.1C249.5,161.2 252.5,159.0 258.2,153.4C268.9,143.0 290.2,125.1 307.1,112.0C324.1,98.8 341.3,85.5 360.0,74.5C378.9,63.3 398.2,53.9 420.0,45.5C444.4,36.1 472.8,28.5 500.0,22.0C527.6,15.4 554.9,7.7 584.5,6.1C616.8,4.4 651.1,9.1 686.5,14.3C725.6,20.1 763.6,31.5 809.0,40.8C865.6,52.4 961.4,70.4 1000.0,77.6C1016.8,80.7 1022.7,82.2 1036.1,84.2C1052.7,86.6 1073.5,88.7 1092.2,90.5C1110.9,92.2 1131.3,93.8 1148.4,94.7C1162.7,95.5 1174.8,95.6 1188.0,96.0"/>
<path d="M190.3,782.7C197.1,780.4 204.6,779.9 210.8,775.9C217.9,771.3 224.9,763.1 229.8,755.3C234.7,747.6 237.4,738.8 240.1,729.4C243.1,718.9 244.8,707.7 246.1,695.0C247.7,679.6 247.9,660.5 247.9,643.3C247.9,626.1 246.9,606.8 246.1,591.7C245.5,579.8 244.9,569.3 243.9,560.0C243.1,552.6 241.9,548.5 241.0,540.0C239.3,525.0 238.0,497.7 236.2,478.0C234.6,460.0 232.7,444.3 231.0,426.4C229.2,407.1 227.0,385.4 225.8,366.1C224.7,348.2 224.2,329.9 224.1,314.4C224.0,301.7 224.5,291.5 224.8,279.8C225.2,267.7 225.2,256.0 226.3,243.1C227.6,228.4 229.0,210.1 232.5,196.2C235.4,184.6 239.5,173.0 244.3,165.0C247.9,159.1 250.9,156.9 256.6,151.3C267.3,141.0 288.7,123.1 305.6,110.0C322.6,96.8 339.9,83.6 358.6,72.6C377.5,61.4 396.8,52.0 418.6,43.7C443.1,34.3 471.5,26.8 498.7,20.3C526.4,13.7 553.8,6.1 583.4,4.7C615.8,3.1 650.2,7.9 685.7,13.3C725.0,19.2 763.0,30.8 808.5,40.2C865.2,51.9 961.1,69.9 999.8,77.4C1016.7,80.6 1022.7,82.2 1036.1,84.2C1052.7,86.7 1073.5,88.7 1092.2,90.5C1110.9,92.2 1131.3,93.8 1148.4,94.7C1162.7,95.5 1174.8,95.6 1188.0,96.0"/>
<path d="M190.3,782.7C197.1,781.0 204.7,781.1 210.8,777.6C217.4,773.9 223.7,767.0 228.0,760.4C232.3,753.8 234.8,745.9 236.7,738.0C238.6,729.8 238.6,721.4 239.2,712.2C239.9,701.6 240.0,690.4 240.1,677.8C240.2,662.3 239.8,643.3 239.2,626.1C238.6,608.9 237.3,589.9 236.7,574.4C236.2,561.8 236.2,553.5 235.8,540.0C235.2,520.7 233.8,491.1 233.6,469.4C233.5,450.9 233.6,434.2 234.4,417.8C235.1,402.8 235.7,388.2 237.9,374.7C239.9,362.5 242.7,349.6 246.5,340.3C249.4,333.3 251.5,329.6 256.8,323.0C266.1,311.3 286.8,291.1 301.6,280.0C313.8,270.9 323.8,265.6 337.8,259.0C355.2,250.7 380.4,241.4 399.0,236.0C413.8,231.7 423.8,229.8 440.0,227.6C463.0,224.5 497.1,224.4 524.4,222.0C550.3,219.7 571.9,217.1 600.0,213.5C635.4,208.9 672.5,201.7 720.0,196.0C789.1,187.7 889.1,179.1 975.0,172.0C1062.4,164.8 1160.1,156.0 1240.0,153.3C1305.7,151.0 1369.2,151.0 1420.0,153.6C1457.5,155.5 1492.6,156.8 1517.4,163.3C1533.7,167.6 1546.8,169.5 1556.3,180.3C1568.4,194.0 1571.3,219.5 1575.8,246.1C1582.3,284.9 1581.9,340.0 1582.2,392.2C1582.5,452.5 1578.3,518.5 1575.8,587.0C1573.0,663.6 1568.0,759.6 1566.0,830.4C1564.5,885.3 1562.7,930.0 1563.7,976.5C1564.6,1019.0 1566.7,1066.4 1571.0,1098.3C1573.8,1119.3 1577.9,1135.9 1582.0,1150.0C1585.0,1160.2 1588.5,1167.2 1591.7,1175.8"/>
<path d="M190.3,782.7C197.1,781.6 203.6,781.2 210.8,779.4C219.0,777.4 230.2,775.4 236.7,770.8C242.2,766.9 245.8,760.9 248.7,755.3C251.5,749.9 252.9,744.4 253.9,738.0C255.1,730.3 255.1,721.4 254.7,712.2C254.2,701.5 252.5,689.2 250.4,677.8C248.2,666.2 244.6,655.5 241.8,643.3C238.6,629.8 234.9,613.9 232.4,600.3C230.2,588.2 228.4,576.5 227.2,565.8C226.2,556.6 225.5,549.3 225.5,540.0C225.5,529.0 225.4,515.9 227.6,503.9C229.9,491.3 234.4,477.3 239.6,466.0C244.3,455.7 248.4,448.9 256.8,438.4C270.7,420.9 300.1,394.0 320.5,374.7C338.4,357.7 352.6,343.1 372.2,328.2C394.4,311.3 417.7,294.9 448.0,280.0C487.7,260.4 545.6,237.5 593.0,227.0C636.1,217.4 682.1,217.6 720.0,216.0C750.6,214.7 770.3,215.2 803.0,216.3C850.1,217.9 922.7,224.2 975.5,227.3C1020.4,229.9 1063.8,232.2 1100.0,234.0C1128.0,235.4 1149.6,236.2 1174.4,237.3"/>
<path d="M190.3,782.7C197.1,781.1 204.9,782.1 210.8,778.0C218.0,773.0 225.0,760.6 228.0,751.8C230.6,744.4 229.3,738.4 229.8,729.4C230.6,715.7 231.3,695.7 231.5,677.8C231.7,658.5 229.6,634.8 230.6,617.5C231.3,604.4 232.0,592.8 235.0,583.0C237.4,575.0 240.9,569.2 245.3,562.4C250.3,554.8 255.8,548.6 264.2,540.0C277.6,526.2 301.9,505.7 320.5,490.1C337.9,475.4 351.8,463.4 372.2,448.8C399.2,429.4 434.4,403.1 470.0,385.9C507.6,367.7 551.2,353.8 593.0,344.0C634.5,334.2 687.5,329.7 720.0,327.0C740.1,325.3 747.0,325.1 768.9,325.4C814.0,326.0 915.3,334.9 975.5,337.5C1022.2,339.5 1063.4,340.1 1100.0,341.0C1128.8,341.7 1151.5,342.2 1177.3,342.8"/>
<path d="M190.3,782.7C198.5,780.1 208.8,781.2 215.0,775.0C223.4,766.5 225.5,744.5 228.9,729.4C232.1,715.0 231.7,698.8 235.0,686.4C237.6,676.5 241.0,668.0 245.3,660.5C249.2,653.9 251.9,650.2 259.0,643.3C274.3,628.5 314.0,601.0 340.0,583.0C363.1,567.0 384.9,553.2 407.1,540.0C428.2,527.5 449.5,515.5 470.0,505.6C488.6,496.6 503.5,490.1 524.4,482.7C551.6,473.1 587.5,461.9 620.0,455.0C652.7,448.1 686.6,444.1 720.0,441.3C753.4,438.5 783.4,437.9 820.5,437.9C866.6,437.9 929.1,441.4 975.5,443.0C1013.4,444.3 1043.6,445.7 1078.8,446.5C1115.6,447.4 1154.2,447.6 1191.9,448.1"/>
<path d="M190.3,782.7C200.0,778.7 212.1,776.8 219.4,770.8C225.9,765.5 229.3,756.8 233.2,750.1C236.6,744.2 238.2,737.9 241.8,732.9C245.2,728.2 247.2,725.4 253.9,720.8C271.0,709.0 323.3,689.8 357.2,674.3C390.3,659.1 421.4,641.1 455.0,628.7C488.6,616.3 520.3,609.4 558.8,599.7C606.5,587.7 674.9,571.0 720.0,563.6C752.1,558.4 772.0,556.9 803.3,555.0C843.4,552.5 895.1,552.6 941.0,552.2C986.9,551.8 1038.5,552.3 1078.8,552.6C1110.2,552.8 1134.7,553.1 1162.6,553.4"/>
<path d="M190.3,782.7C208.6,777.0 224.3,770.2 245.3,765.6C272.4,759.7 307.0,759.1 340.0,753.5C376.6,747.3 408.7,738.4 455.0,729.4C525.1,715.8 649.3,693.8 720.0,682.4C767.0,674.8 792.9,669.2 837.8,665.2C896.9,659.9 993.4,659.0 1044.4,658.3C1074.4,657.9 1092.1,658.6 1116.0,658.8"/>
<path d="M190.3,782.7C208.6,777.3 224.3,770.8 245.3,766.4C272.4,760.7 307.0,760.1 340.0,754.6C376.6,748.5 408.7,739.7 455.0,730.8C525.1,717.3 649.3,695.4 720.0,683.8C767.1,676.1 792.9,670.3 837.8,666.2C896.9,660.8 993.4,660.0 1044.4,659.0C1074.4,658.4 1092.1,658.9 1116.0,658.8"/>
<path d="M190.3,782.7C208.6,778.7 223.6,773.8 245.3,770.8C275.9,766.6 321.3,768.0 357.2,763.9C391.0,760.0 414.5,754.8 455.0,747.5C521.8,735.4 649.2,708.2 720.0,696.2C767.0,688.2 797.0,684.3 837.8,679.0C881.9,673.3 929.3,666.9 975.5,663.5C1022.0,660.1 1069.2,660.4 1116.0,658.8"/>
<path d="M190.3,782.7C278.5,781.6 366.8,781.5 455.0,779.4C543.3,777.3 643.9,772.4 720.0,770.2C777.7,768.6 818.0,767.8 872.0,766.8C933.7,765.7 1004.2,764.9 1070.3,764.0"/>
<path d="M190.3,782.7C206.4,783.5 216.7,784.2 238.5,785.2C284.8,787.4 399.4,792.1 455.0,794.5C489.8,796.0 506.4,796.6 540.0,798.2C588.9,800.5 653.4,804.3 720.0,807.6C803.1,811.7 948.8,817.7 1000.0,820.5C1019.4,821.6 1026.5,820.3 1040.0,823.0C1054.8,826.0 1070.2,832.5 1085.0,838.6C1100.1,844.8 1115.3,854.7 1129.6,860.0C1141.9,864.6 1153.3,866.3 1165.2,869.5"/>
<path d="M190.3,782.7C200.0,784.5 210.2,785.1 219.4,788.0C228.5,790.9 235.5,796.6 245.3,800.0C257.3,804.2 269.8,806.4 286.6,810.0C312.6,815.5 349.6,822.3 386.6,828.2C432.2,835.4 487.4,838.6 540.0,848.9C597.0,860.1 657.3,879.5 716.0,894.4C774.6,909.3 840.3,926.9 892.0,938.4C932.2,947.4 970.9,954.4 1000.0,959.5C1019.6,962.9 1031.3,964.9 1049.3,967.1C1070.9,969.7 1098.3,972.1 1120.7,973.4C1140.6,974.5 1158.4,974.4 1177.2,974.9"/>
<path d="M190.3,782.7C194.5,784.2 198.9,784.1 202.8,787.1C208.4,791.4 214.0,800.3 218.2,809.7C223.8,822.2 227.0,843.1 230.1,857.1C232.6,868.1 233.1,879.3 236.0,886.8C237.9,891.8 240.7,895.5 243.1,898.6C244.9,900.9 246.6,902.3 248.3,904.1"/>
<path d="M190.3,782.7C194.7,784.3 199.4,784.3 203.5,787.5C209.4,792.1 215.2,801.4 219.5,811.0C225.2,823.6 228.3,844.0 231.5,858.0C234.0,869.1 234.7,880.2 237.5,888.0C239.4,893.4 242.4,897.6 244.5,901.0C245.9,903.3 247.1,904.8 248.4,906.6"/>
<path d="M190.3,782.7C195.2,785.1 200.1,785.6 205.0,790.0C213.3,797.5 223.0,818.8 230.0,830.0C235.1,838.2 241.1,841.9 243.1,851.2C246.1,865.6 238.0,891.9 234.8,910.5C232.0,927.3 226.8,944.8 225.3,958.0C224.3,967.2 224.3,973.0 224.7,981.7C225.2,992.4 224.9,1005.3 228.9,1017.3C233.6,1031.4 242.8,1048.3 253.8,1060.0C264.8,1071.7 280.8,1081.1 295.0,1087.3C307.9,1092.9 317.4,1096.2 335.0,1096.8C368.7,1098.0 442.2,1069.7 483.1,1072.7C512.8,1074.9 542.0,1082.9 558.8,1096.8C572.3,1108.0 577.8,1125.9 583.0,1141.6C588.1,1157.0 587.9,1176.6 589.8,1190.0C591.2,1199.5 591.5,1206.9 593.3,1214.4C594.9,1221.2 597.6,1227.0 599.7,1233.3"/>
<path d="M190.3,782.7C195.5,785.8 201.0,786.9 206.0,792.0C213.8,799.9 222.4,816.0 228.0,830.0C234.0,845.1 237.5,861.3 240.0,880.0C243.0,903.0 242.2,936.0 242.0,958.0C241.8,974.2 240.9,985.4 240.0,1000.0C239.0,1015.9 237.6,1030.5 236.0,1050.0C233.8,1077.6 229.7,1116.6 228.0,1150.0C226.3,1183.3 223.8,1220.0 225.5,1250.0C226.9,1274.9 225.2,1298.9 235.1,1317.8C244.8,1336.3 263.1,1353.1 283.3,1362.5C306.5,1373.3 340.7,1372.0 369.4,1372.9C398.1,1373.8 423.2,1370.1 455.5,1367.7C497.3,1364.6 551.4,1359.3 599.3,1355.1"/>
<path d="M190.3,782.7C195.9,785.8 201.6,786.8 207.0,792.0C215.2,799.9 224.4,816.0 230.0,830.0C236.0,845.1 238.7,861.4 241.0,880.0C243.8,903.0 243.2,936.0 243.0,958.0C242.8,974.2 241.9,985.4 241.0,1000.0C240.1,1015.9 239.0,1030.5 237.5,1050.0C235.4,1077.6 230.9,1116.6 229.0,1150.0C227.1,1183.3 225.6,1225.6 226.0,1250.0C226.3,1264.1 226.4,1270.6 228.2,1283.3C230.7,1300.9 232.6,1327.4 242.0,1345.3C251.2,1362.8 264.9,1380.2 283.3,1390.0C305.3,1401.7 338.2,1402.1 369.4,1403.2C406.2,1404.5 450.8,1396.7 490.0,1393.5C527.3,1390.5 562.9,1387.6 599.3,1384.7"/>
<path d="M190.3,782.7C196.5,785.8 202.4,787.9 209.0,792.0C217.4,797.1 229.3,803.0 236.0,812.0C243.4,821.9 246.7,836.3 250.0,850.0C253.7,865.3 254.8,884.9 256.0,900.0C257.0,912.4 257.3,921.7 257.4,934.0C257.5,948.6 256.9,964.4 256.2,981.7C255.4,1002.4 254.5,1025.1 252.6,1050.0C250.4,1080.2 246.4,1116.7 243.0,1150.0C239.6,1183.3 235.0,1218.5 232.3,1250.0C229.9,1278.1 227.9,1304.2 227.0,1330.0C226.2,1354.1 225.6,1377.6 226.7,1400.0C227.7,1420.8 228.5,1442.0 232.6,1460.0C236.2,1475.5 240.8,1489.4 248.1,1502.1C255.3,1514.6 265.1,1525.4 276.1,1535.8C288.1,1547.1 303.7,1558.3 318.2,1566.6C331.8,1574.4 344.9,1580.9 360.3,1584.9C377.3,1589.3 396.6,1589.1 416.4,1590.5C438.5,1592.0 464.6,1590.4 486.6,1593.3C506.5,1595.9 524.2,1600.2 542.7,1605.9C561.6,1611.8 579.6,1621.1 598.8,1628.4C618.7,1636.0 637.5,1642.9 660.0,1650.8C687.5,1660.5 720.0,1671.0 752.2,1682.1C787.8,1694.4 834.0,1707.8 864.5,1721.4C886.9,1731.4 902.6,1739.4 920.6,1752.2C940.1,1766.1 958.4,1784.6 976.7,1802.8C995.9,1821.9 1018.9,1846.5 1032.9,1864.5C1042.7,1877.0 1050.2,1886.3 1055.3,1898.2C1060.2,1909.7 1061.9,1923.2 1063.7,1934.6C1065.2,1944.6 1066.4,1951.5 1066.0,1963.0C1065.4,1980.8 1055.6,2012.1 1056.0,2031.0C1056.3,2044.6 1059.2,2054.3 1062.7,2066.0C1066.5,2078.6 1072.0,2091.6 1078.6,2104.0C1085.6,2117.0 1094.6,2131.7 1104.0,2142.0C1112.0,2150.8 1121.2,2158.6 1130.0,2163.0C1137.2,2166.6 1144.6,2166.6 1151.9,2168.4"/>
<path d="M190.3,782.7C196.2,786.1 202.2,787.2 208.0,793.0C217.4,802.4 229.5,822.7 235.0,840.0C240.8,858.2 239.7,877.4 240.8,900.0C242.2,929.1 240.9,972.4 241.0,1000.0C241.1,1019.5 241.2,1030.5 241.2,1050.0C241.2,1077.6 240.6,1116.7 240.5,1150.0C240.4,1183.3 240.4,1213.3 240.3,1250.0C240.1,1294.9 239.8,1347.7 239.5,1400.0C239.2,1457.3 236.5,1533.9 238.5,1580.0C239.8,1608.8 242.9,1628.6 245.0,1650.0C246.7,1668.1 246.7,1687.5 250.0,1700.0C252.1,1708.1 253.7,1711.6 258.3,1719.1C266.5,1732.5 284.5,1754.7 300.0,1770.1C315.4,1785.5 333.8,1798.4 351.0,1811.4C367.8,1824.0 384.4,1837.6 402.0,1847.1C418.5,1856.0 435.8,1862.0 453.0,1867.6C469.8,1873.0 486.9,1876.7 504.0,1880.3C520.9,1883.9 538.0,1886.9 555.0,1889.2C572.0,1891.5 586.4,1892.7 606.0,1894.3C632.6,1896.5 673.3,1897.7 700.0,1900.2C720.0,1902.0 732.8,1903.2 752.2,1906.6C777.0,1911.0 808.7,1917.1 836.4,1926.2C864.9,1935.6 895.1,1949.6 920.6,1962.7C943.2,1974.4 963.0,1984.6 982.4,2000.0C1003.3,2016.6 1028.0,2040.5 1040.8,2060.2C1050.4,2075.0 1055.1,2088.6 1058.2,2104.1C1061.5,2120.2 1058.4,2139.2 1059.4,2155.0C1060.3,2168.7 1059.6,2182.3 1063.3,2193.4C1066.5,2203.2 1071.6,2210.0 1078.6,2218.9C1088.0,2230.9 1103.1,2248.0 1116.8,2257.1C1128.8,2265.0 1144.8,2269.6 1155.1,2272.4C1161.7,2274.2 1166.4,2274.1 1172.0,2274.9"/>
<path d="M190.3,782.7C196.9,786.5 203.6,787.8 210.0,794.0C219.8,803.6 231.8,823.0 238.0,840.0C244.6,858.1 245.2,877.4 247.0,900.0C249.3,929.0 248.0,972.4 248.0,1000.0C248.0,1019.5 247.6,1030.5 247.5,1050.0C247.3,1077.6 247.1,1116.7 247.0,1150.0C246.9,1183.3 247.2,1213.3 246.7,1250.0C246.1,1295.0 244.4,1347.7 243.0,1400.0C241.5,1457.3 238.9,1526.1 238.0,1580.0C237.2,1624.0 237.3,1668.4 237.2,1700.0C237.1,1720.6 236.8,1733.1 237.2,1751.0C237.7,1771.1 238.6,1794.8 240.4,1814.8C242.0,1832.8 243.8,1850.9 246.8,1865.8C249.2,1877.8 253.5,1891.2 255.7,1897.7C256.7,1900.6 256.5,1900.8 258.3,1904.0C266.0,1917.3 308.2,1968.5 332.2,2000.0C355.4,2030.4 374.8,2058.2 400.0,2090.0C429.7,2127.4 461.5,2172.5 500.0,2209.4C541.2,2248.9 592.9,2287.5 641.6,2318.0C687.5,2346.7 738.2,2372.9 783.2,2388.8C820.9,2402.1 853.9,2409.1 891.7,2412.4C932.3,2416.0 980.4,2411.0 1019.2,2407.6C1052.1,2404.7 1079.4,2399.5 1110.0,2395.0C1141.4,2390.4 1173.5,2385.1 1205.3,2380.2"/>
<path d="M190.3,782.7C196.9,786.5 203.6,787.8 210.0,794.0C219.8,803.6 231.8,823.0 238.0,840.0C244.6,858.1 245.2,877.4 247.0,900.0C249.3,929.0 248.0,972.4 248.0,1000.0C248.0,1019.5 247.6,1030.5 247.5,1050.0C247.3,1077.6 247.1,1116.7 247.0,1150.0C246.9,1183.3 247.2,1213.3 246.7,1250.0C246.1,1295.0 244.7,1347.7 243.0,1400.0C241.1,1457.3 237.1,1526.0 235.8,1580.0C234.8,1624.0 235.1,1668.4 235.0,1700.0C234.9,1720.6 234.6,1733.1 235.0,1751.1C235.5,1771.2 236.4,1794.9 238.2,1815.0C239.8,1833.0 241.6,1851.2 244.6,1866.2C247.1,1878.3 251.2,1891.6 253.6,1898.3C254.7,1901.6 254.5,1901.9 256.5,1905.3C264.6,1919.2 306.4,1969.8 330.4,2001.3C353.6,2031.8 373.0,2059.6 398.3,2091.4C428.0,2128.8 459.9,2174.0 498.5,2211.0C539.8,2250.6 591.6,2289.3 640.4,2319.9C686.4,2348.6 737.2,2374.9 782.4,2390.9C820.3,2404.2 853.5,2411.2 891.5,2414.6C932.2,2418.2 980.5,2413.2 1019.4,2409.8C1052.3,2406.9 1079.7,2402.0 1110.3,2397.2C1141.7,2392.2 1173.6,2385.9 1205.3,2380.2"/>
<path d="M1028.5,1090.8C1032.3,1083.2 1040.0,1076.0 1040.0,1068.0C1040.0,1058.9 1031.5,1047.8 1025.0,1039.0C1018.3,1029.9 1011.3,1023.6 1000.0,1014.7C981.5,1000.2 949.2,975.9 921.0,965.0C893.4,954.3 868.6,951.2 833.0,949.3C779.0,946.4 682.1,962.7 628.0,963.4C592.6,963.8 576.0,960.3 540.0,959.5C482.8,958.2 365.1,962.3 318.0,959.0C295.9,957.4 279.3,957.1 269.5,952.2C264.2,949.5 261.4,946.1 259.2,941.9C257.0,937.5 257.5,931.5 256.6,926.4"/>
<path d="M555.5,909.1C560.3,910.4 565.5,910.9 570.0,913.0C574.5,915.2 579.1,917.9 582.5,922.0C586.3,926.6 588.8,933.2 591.0,940.0C593.6,948.1 594.5,956.3 595.8,967.9C597.9,987.1 599.5,1019.0 599.7,1044.4C599.9,1069.7 598.4,1098.8 597.0,1120.0C596.0,1135.5 594.9,1147.2 593.0,1160.0C591.2,1172.1 588.2,1180.6 586.0,1195.0C582.5,1217.6 577.2,1252.4 576.0,1283.0C574.7,1316.2 575.7,1360.4 579.5,1387.0C581.9,1404.0 585.0,1419.6 590.0,1428.0C592.9,1432.8 596.7,1434.2 600.0,1437.3"/>
<path d="M537.5,1014.9C542.7,1015.6 548.1,1015.3 553.0,1017.0C558.0,1018.7 563.6,1021.5 567.1,1025.3C570.6,1029.1 572.4,1034.4 574.0,1040.0C575.9,1046.8 576.0,1054.0 576.7,1063.6C577.8,1078.5 577.5,1102.2 578.6,1121.0C579.6,1139.3 580.1,1161.5 583.0,1175.0C584.8,1183.4 586.7,1189.9 590.0,1195.0C592.6,1199.0 596.5,1201.0 599.7,1204.0"/>
<path d="M474.5,1156.0C481.3,1156.7 488.4,1156.8 495.0,1158.0C501.4,1159.2 507.8,1160.2 513.6,1163.0C519.5,1165.8 524.3,1170.1 530.0,1175.0C537.0,1181.1 544.6,1189.5 552.0,1197.5C559.9,1206.1 568.9,1215.8 576.0,1225.0C582.4,1233.3 588.7,1243.2 593.0,1250.0C595.9,1254.6 597.6,1257.9 599.9,1261.8"/>
<path d="M206.0,1446.8C213.4,1445.5 222.4,1445.8 228.3,1442.8C233.2,1440.3 237.0,1436.9 239.7,1432.1C243.1,1426.0 244.4,1417.0 245.0,1408.0C245.8,1396.8 243.7,1382.4 242.0,1370.0C240.3,1358.0 236.7,1347.9 235.0,1335.0C233.0,1319.4 229.5,1299.4 232.0,1283.0C234.4,1267.3 239.6,1248.9 249.0,1238.5C257.4,1229.2 268.0,1225.4 283.0,1221.3C307.7,1214.5 352.4,1214.4 387.0,1214.4C421.4,1214.4 459.3,1216.5 490.0,1221.3C515.5,1225.3 542.1,1229.5 559.0,1238.5C571.1,1244.9 579.0,1253.7 586.0,1262.7C592.4,1271.0 595.5,1280.8 600.2,1289.9"/>
<path d="M514.5,1297.3C529.3,1299.5 546.3,1299.8 558.8,1304.0C569.0,1307.4 577.5,1314.5 585.0,1318.0C590.4,1320.5 594.6,1321.8 599.4,1323.6"/>
<path d="M522.5,1474.5C534.6,1470.5 548.6,1469.4 558.8,1462.4C569.2,1455.3 576.4,1440.2 584.0,1432.0C589.6,1425.9 594.4,1422.0 599.6,1417.0"/>
<path d="M522.5,1474.5C533.5,1468.2 547.3,1466.3 555.4,1455.5C566.5,1440.8 569.6,1413.7 572.6,1386.6C576.8,1348.8 565.5,1285.1 569.2,1249.0C571.7,1225.1 575.2,1201.1 583.0,1190.3C587.4,1184.2 593.9,1183.6 599.4,1180.3"/>
<path d="M527.3,1669.1C537.1,1664.9 549.6,1664.2 556.7,1656.4C565.1,1647.3 567.9,1630.4 570.8,1614.3C574.5,1594.1 570.0,1562.6 573.6,1544.2C576.1,1531.6 579.2,1519.8 584.8,1513.3C588.8,1508.6 594.6,1507.8 599.6,1505.0"/>
<path d="M206.0,1446.8C213.4,1448.3 221.9,1448.1 228.3,1451.3C234.4,1454.3 239.6,1458.8 243.6,1465.0C248.7,1472.9 252.2,1485.0 253.7,1496.5C255.4,1509.7 252.0,1526.6 251.5,1540.0C251.1,1551.5 251.0,1560.0 250.9,1572.2C250.7,1588.3 248.0,1613.1 250.9,1628.4C253.1,1639.6 256.8,1649.9 262.1,1656.4C266.3,1661.5 272.4,1663.2 277.5,1666.6"/>
<path d="M1028.5,1090.8C1033.3,1084.5 1039.1,1080.0 1043.0,1072.0C1048.3,1061.2 1051.2,1046.4 1054.0,1030.0C1057.9,1007.7 1059.5,980.9 1061.0,950.0C1063.0,907.8 1061.6,853.6 1062.0,800.0C1062.5,738.1 1063.3,664.9 1064.0,600.0C1064.7,538.4 1065.5,473.9 1066.0,420.0C1066.4,376.0 1065.6,334.6 1067.0,300.0C1068.1,273.5 1069.8,250.1 1072.0,230.0C1073.7,214.8 1073.8,202.0 1078.0,190.0C1081.8,178.9 1089.0,170.2 1095.0,160.0C1101.3,149.2 1107.0,135.9 1115.0,127.0C1122.2,119.0 1131.3,112.7 1140.0,108.0C1148.0,103.6 1156.7,101.0 1165.0,99.0C1172.7,97.1 1180.3,96.9 1188.0,95.9"/>
<path d="M1028.5,1090.8C1034.0,1084.5 1040.5,1080.1 1045.0,1072.0C1051.0,1061.2 1054.8,1046.4 1058.0,1030.0C1062.4,1007.8 1063.4,980.9 1065.0,950.0C1067.1,907.8 1066.5,853.6 1067.0,800.0C1067.6,738.1 1067.7,664.9 1068.0,600.0C1068.3,538.4 1068.0,469.7 1069.0,420.0C1069.7,384.8 1069.8,353.8 1072.0,330.0C1073.5,314.3 1073.5,301.8 1078.0,291.0C1081.8,281.8 1088.7,274.9 1095.0,268.0C1101.1,261.3 1107.5,254.5 1115.0,250.0C1122.5,245.5 1130.9,243.1 1140.0,241.0C1150.4,238.6 1162.9,238.5 1174.4,237.3"/>
<path d="M1028.5,1090.8C1034.7,1084.5 1042.0,1080.2 1047.0,1072.0C1053.5,1061.3 1057.5,1046.5 1061.0,1030.0C1065.7,1007.8 1067.3,980.9 1069.0,950.0C1071.4,907.8 1070.5,853.6 1071.0,800.0C1071.6,738.1 1072.1,659.5 1072.0,600.0C1071.9,552.0 1070.3,500.9 1071.0,470.0C1071.4,452.8 1071.8,443.0 1073.0,430.0C1074.2,417.7 1073.8,404.2 1078.0,394.0C1081.7,384.9 1088.6,377.6 1095.0,371.0C1101.0,364.7 1107.6,359.2 1115.0,355.0C1122.6,350.8 1130.7,348.0 1140.0,346.0C1151.1,343.6 1164.9,343.9 1177.3,342.8"/>
<path d="M1028.5,1090.8C1035.3,1084.5 1043.4,1080.4 1049.0,1072.0C1056.0,1061.4 1060.2,1046.5 1064.0,1030.0C1069.1,1007.8 1071.1,980.9 1073.0,950.0C1075.6,907.8 1074.8,852.3 1075.0,800.0C1075.2,742.7 1074.1,663.9 1074.0,620.0C1073.9,594.6 1073.4,580.2 1074.0,560.0C1074.7,539.5 1072.8,513.7 1078.0,498.0C1081.7,486.9 1088.4,478.9 1095.0,472.0C1100.9,465.9 1107.6,461.5 1115.0,458.0C1122.6,454.4 1130.1,452.7 1140.0,451.0C1154.1,448.7 1174.6,449.1 1191.9,448.1"/>
<path d="M1028.5,1090.8C1034.3,1084.5 1041.6,1080.2 1046.0,1072.0C1051.7,1061.3 1053.4,1046.3 1056.0,1030.0C1059.6,1007.7 1061.4,980.9 1063.0,950.0C1065.1,907.8 1064.0,844.9 1065.0,800.0C1065.8,763.3 1066.8,731.9 1068.0,700.0C1069.1,670.8 1066.7,636.1 1072.0,616.0C1075.2,603.7 1080.2,595.9 1086.0,588.0C1091.3,580.8 1097.8,575.0 1105.0,570.0C1112.4,564.9 1120.9,560.8 1130.0,558.0C1139.9,555.0 1151.7,554.9 1162.6,553.4"/>
<path d="M1028.5,1090.8C1036.0,1084.5 1044.9,1080.5 1051.0,1072.0C1058.5,1061.5 1063.0,1046.5 1067.0,1030.0C1072.4,1007.9 1074.1,980.9 1076.0,950.0C1078.6,907.8 1078.9,836.6 1078.0,800.0C1077.5,778.9 1074.4,765.2 1075.0,750.0C1075.5,737.3 1076.7,726.0 1080.0,715.0C1083.2,704.4 1089.0,693.0 1094.0,685.0C1097.8,678.9 1102.1,674.6 1106.0,670.0C1109.4,665.9 1112.7,662.5 1116.0,658.8"/>
<path d="M1028.5,1090.8C1036.3,1085.5 1044.5,1081.3 1052.0,1075.0C1060.3,1068.0 1071.4,1060.8 1076.0,1050.0C1081.5,1037.0 1079.6,1017.4 1078.0,1000.0C1076.2,980.6 1069.5,961.2 1064.0,939.0C1057.3,911.9 1043.3,874.9 1040.4,849.3C1038.3,830.6 1038.5,813.4 1042.0,800.0C1044.6,789.9 1049.6,781.2 1055.0,775.0C1059.4,769.9 1065.2,767.7 1070.3,764.0"/>
<path d="M1028.5,1090.8C1033.7,1085.5 1039.9,1081.9 1044.0,1075.0C1049.3,1066.1 1051.2,1055.0 1054.6,1040.0C1060.4,1013.9 1059.0,957.1 1070.7,931.4C1078.6,914.2 1091.0,903.9 1102.9,893.9C1113.8,884.7 1127.2,876.4 1138.6,872.5C1147.8,869.4 1156.3,870.5 1165.2,869.5"/>
<path d="M1028.5,1090.8C1034.3,1086.5 1040.7,1084.2 1046.0,1078.0C1053.5,1069.2 1055.5,1052.1 1065.4,1040.0C1078.1,1024.4 1103.8,1006.8 1120.7,995.7C1133.5,987.4 1145.8,980.2 1156.4,977.0C1164.0,974.7 1170.3,975.6 1177.2,974.9"/>
<path d="M1028.5,1090.8C1047.2,1090.5 1065.1,1091.0 1084.7,1089.8C1106.3,1088.5 1133.5,1084.7 1152.5,1083.0C1166.3,1081.8 1176.2,1081.1 1188.1,1080.2"/>
<path d="M1028.5,1090.8C1040.5,1097.3 1052.8,1102.0 1064.4,1110.2C1077.3,1119.3 1089.3,1133.8 1101.7,1144.0C1113.1,1153.4 1123.5,1162.6 1135.6,1169.5C1147.5,1176.3 1160.8,1180.2 1173.4,1185.5"/>
<path d="M1028.5,1090.8C1034.3,1093.9 1041.2,1094.5 1046.0,1100.0C1053.0,1108.1 1056.5,1124.5 1060.0,1140.0C1064.6,1160.3 1059.8,1192.1 1068.0,1212.0C1075.1,1229.2 1088.9,1242.0 1101.7,1254.2C1114.3,1266.2 1130.1,1278.7 1144.0,1284.7C1155.2,1289.5 1166.2,1288.8 1177.3,1290.9"/>
<path d="M1028.5,1090.8C1034.7,1094.5 1042.0,1095.6 1047.0,1102.0C1054.7,1111.8 1058.5,1130.8 1062.0,1150.0C1067.0,1177.0 1066.2,1224.6 1068.0,1250.0C1069.1,1265.7 1068.4,1275.2 1071.0,1288.0C1073.8,1301.8 1079.8,1316.3 1085.0,1330.0C1090.1,1343.6 1094.9,1359.5 1102.0,1370.0C1107.7,1378.5 1114.9,1385.6 1122.0,1390.0C1128.0,1393.7 1134.7,1394.0 1141.0,1396.1"/>
<path d="M1028.5,1090.8C1035.0,1095.2 1042.7,1096.7 1048.0,1104.0C1056.3,1115.5 1060.4,1136.9 1064.0,1160.0C1069.6,1195.9 1067.4,1256.7 1068.0,1300.0C1068.5,1337.5 1064.3,1377.9 1068.0,1405.0C1070.4,1422.7 1072.3,1435.1 1080.0,1448.0C1088.4,1462.1 1103.6,1476.4 1118.6,1485.1C1133.5,1493.8 1154.2,1497.8 1169.5,1500.3C1181.5,1502.3 1191.4,1501.1 1202.4,1501.5"/>
<path d="M1028.5,1090.8C1035.3,1095.9 1043.4,1097.8 1049.0,1106.0C1058.0,1119.2 1062.2,1144.7 1066.0,1170.0C1071.3,1205.5 1070.1,1251.2 1071.0,1300.0C1072.2,1362.9 1062.5,1472.4 1071.0,1516.0C1074.9,1536.0 1082.1,1544.8 1088.0,1558.0C1093.4,1570.0 1099.0,1583.3 1105.0,1592.0C1109.3,1598.3 1114.0,1601.9 1118.5,1606.8"/>
<path d="M1028.5,1090.8C1035.7,1096.5 1044.0,1098.9 1050.0,1108.0C1059.9,1122.9 1065.5,1150.6 1070.0,1180.0C1076.8,1224.4 1074.9,1286.1 1076.0,1350.0C1077.5,1432.6 1069.7,1585.5 1076.0,1634.0C1078.2,1651.1 1081.8,1656.5 1085.0,1668.0C1088.4,1680.0 1092.2,1692.5 1095.8,1704.7"/>
<path d="M1028.5,1090.8C1036.0,1097.2 1044.7,1100.0 1051.0,1110.0C1061.5,1126.7 1067.5,1156.7 1072.0,1190.0C1079.1,1243.1 1074.0,1323.7 1074.0,1400.0C1074.0,1491.5 1068.0,1647.4 1071.0,1702.0C1072.1,1722.4 1071.9,1730.9 1076.0,1744.0C1080.0,1756.9 1087.4,1769.9 1095.0,1780.0C1101.8,1789.0 1108.8,1796.6 1118.6,1802.4C1130.1,1809.2 1148.1,1813.6 1161.0,1815.9C1171.3,1817.8 1179.9,1816.9 1189.4,1817.4"/>
<path d="M1028.5,1090.8C1036.3,1097.9 1045.5,1101.1 1052.0,1112.0C1063.1,1130.4 1070.0,1164.4 1074.0,1200.0C1080.0,1252.9 1071.2,1323.6 1070.0,1400.0C1068.4,1502.5 1065.5,1682.8 1066.0,1760.0C1066.2,1796.6 1063.4,1821.5 1068.0,1841.0C1070.8,1853.0 1073.6,1861.6 1081.0,1868.5C1089.5,1876.5 1104.9,1880.1 1118.6,1883.7C1134.1,1887.8 1151.1,1889.0 1169.5,1890.5C1191.0,1892.3 1213.0,1892.2 1240.0,1892.6C1276.6,1893.1 1326.1,1894.7 1369.0,1892.6C1412.1,1890.5 1464.4,1886.3 1498.0,1879.7C1520.3,1875.3 1540.7,1873.8 1552.5,1863.6C1562.2,1855.1 1564.6,1843.8 1568.6,1828.2C1575.4,1801.6 1575.0,1754.3 1576.6,1715.4C1578.3,1673.9 1578.5,1633.9 1578.2,1586.6C1577.8,1528.7 1573.4,1451.2 1573.4,1393.3C1573.4,1346.0 1572.3,1296.8 1576.6,1264.4C1579.3,1244.3 1585.1,1228.5 1588.3,1216.2C1590.3,1208.6 1591.6,1203.9 1593.3,1197.7"/>
<path d="M1028.5,1090.8C1036.7,1098.5 1046.2,1102.2 1053.0,1114.0C1064.6,1134.2 1071.7,1170.5 1076.0,1210.0C1082.8,1271.7 1073.4,1364.9 1072.0,1450.0C1070.4,1546.7 1067.2,1689.0 1067.0,1760.0C1066.9,1797.2 1065.0,1820.5 1068.0,1845.0C1070.4,1864.2 1072.0,1880.4 1080.0,1895.6C1088.4,1911.6 1103.4,1927.8 1118.6,1938.0C1133.4,1947.9 1154.3,1953.4 1169.5,1956.6C1181.1,1959.1 1190.7,1958.0 1201.3,1958.7"/>
<path d="M1028.5,1090.8C1037.0,1099.2 1046.9,1103.3 1054.0,1116.0C1066.2,1137.9 1073.4,1176.6 1078.0,1220.0C1085.5,1290.3 1076.3,1405.1 1074.0,1500.0C1071.7,1598.3 1065.4,1717.8 1064.0,1800.0C1063.0,1857.3 1059.0,1908.3 1064.0,1946.0C1067.2,1970.6 1070.6,1988.6 1080.0,2005.8C1089.1,2022.4 1103.3,2038.6 1118.6,2048.1C1133.3,2057.2 1157.0,2060.2 1169.5,2062.5C1176.6,2063.8 1180.9,2063.6 1186.6,2064.1"/>
<path d="M1028.5,1090.8C1037.3,1099.9 1047.6,1104.4 1055.0,1118.0C1067.8,1141.6 1075.1,1182.7 1080.0,1230.0C1088.2,1308.9 1078.9,1441.0 1076.0,1550.0C1073.0,1664.1 1064.8,1807.7 1062.0,1900.0C1060.2,1960.4 1054.8,2023.4 1059.0,2050.0C1060.6,2060.0 1063.2,2062.4 1066.0,2070.0C1069.8,2080.3 1073.7,2094.3 1080.0,2106.0C1086.8,2118.7 1096.7,2133.0 1106.0,2143.0C1113.9,2151.5 1122.5,2159.3 1131.0,2163.5C1137.9,2166.9 1145.0,2166.8 1151.9,2168.4"/>
<path d="M1028.5,1090.8C1037.7,1100.5 1048.4,1105.5 1056.0,1120.0C1069.2,1145.4 1076.0,1188.9 1081.0,1240.0C1089.7,1327.5 1080.4,1476.9 1078.0,1600.0C1075.5,1729.8 1067.6,1890.4 1066.0,2000.0C1064.9,2076.5 1057.7,2160.3 1066.3,2195.0C1069.7,2208.7 1073.6,2212.9 1080.4,2222.0C1089.3,2233.9 1104.6,2249.5 1118.0,2258.0C1129.7,2265.5 1144.9,2269.8 1155.0,2272.5C1161.6,2274.2 1166.3,2274.1 1172.0,2274.9"/>
<path d="M1028.5,1090.8C1038.0,1101.2 1049.2,1106.6 1057.0,1122.0C1070.7,1149.1 1076.8,1195.2 1082.0,1250.0C1091.0,1346.0 1081.9,1512.7 1080.0,1650.0C1078.0,1795.6 1071.7,2003.9 1070.0,2100.0C1069.2,2145.3 1068.3,2168.5 1068.7,2200.0C1069.1,2228.2 1069.3,2257.6 1072.0,2280.0C1074.0,2296.5 1075.0,2310.8 1080.4,2322.7C1085.0,2332.9 1092.2,2340.9 1100.0,2348.0C1107.9,2355.1 1117.1,2360.6 1127.7,2365.2C1140.0,2370.6 1156.4,2374.5 1170.0,2377.0C1182.2,2379.2 1193.5,2379.1 1205.3,2380.2"/>
<path d="M1028.5,1090.8C1040.3,1093.9 1055.7,1093.4 1064.0,1100.0C1071.6,1106.0 1075.4,1117.9 1078.0,1127.0C1080.4,1135.3 1080.3,1143.0 1080.0,1152.0C1079.7,1162.5 1077.3,1173.6 1075.0,1186.0C1072.2,1201.3 1066.6,1215.0 1064.0,1237.0C1059.4,1275.8 1060.7,1342.9 1060.0,1400.0C1059.2,1463.3 1059.8,1521.9 1060.0,1600.0C1060.3,1710.5 1061.7,1890.4 1062.0,2000.0C1062.2,2076.6 1061.5,2130.9 1062.0,2195.0C1062.5,2257.2 1061.0,2332.1 1065.0,2379.0C1067.5,2408.3 1072.4,2429.7 1076.0,2450.0C1078.7,2465.3 1082.5,2480.0 1084.0,2490.0C1084.9,2496.0 1085.0,2499.6 1085.5,2504.4"/>
<path d="M952.5,2549.6C994.6,2549.6 1036.6,2549.7 1078.7,2549.7"/>
<path d="M1443.0,1185.4C1491.8,1185.4 1540.6,1185.4 1589.4,1185.4"/>
<path d="M1196.70,95.98L1209.33,101.70M1196.70,95.98L1209.27,90.10M1196.70,95.98L1208.30,95.91" stroke-width="1.4"/>
<path d="M1196.70,95.98L1204.12,99.33L1205.50,95.92L1204.08,92.53Z" fill="#000" stroke="none"/>
<circle cx="1192.30" cy="96.00" r="4.1" fill="#fff" stroke-width="1.35"/>
<path d="M1196.70,95.98L1209.33,101.70M1196.70,95.98L1209.27,90.10M1196.70,95.98L1208.30,95.91" stroke-width="1.4"/>
<path d="M1196.70,95.98L1204.12,99.33L1205.50,95.92L1204.08,92.53Z" fill="#000" stroke="none"/>
<circle cx="1192.30" cy="96.00" r="4.1" fill="#fff" stroke-width="1.35"/>
<path d="M1599.46,1179.71L1608.08,1190.57M1599.46,1179.71L1613.32,1180.23M1599.46,1179.71L1609.81,1184.95" stroke-width="1.4"/>
<path d="M1599.46,1179.71L1604.52,1186.08L1607.31,1183.68L1607.60,1180.02Z" fill="#000" stroke="none"/>
<circle cx="1595.53" cy="1177.72" r="4.1" fill="#fff" stroke-width="1.35"/>
<path d="M1183.10,237.30L1195.70,243.10M1183.10,237.30L1195.70,231.50M1183.10,237.30L1194.70,237.30" stroke-width="1.4"/>
<path d="M1183.10,237.30L1190.50,240.70L1191.90,237.30L1190.50,233.90Z" fill="#000" stroke="none"/>
<circle cx="1178.70" cy="237.30" r="4.1" fill="#fff" stroke-width="1.35"/>
<path d="M1186.00,342.80L1198.60,348.60M1186.00,342.80L1198.60,337.00M1186.00,342.80L1197.60,342.80" stroke-width="1.4"/>
<path d="M1186.00,342.80L1193.40,346.20L1194.80,342.80L1193.40,339.40Z" fill="#000" stroke="none"/>
<circle cx="1181.60" cy="342.80" r="4.1" fill="#fff" stroke-width="1.35"/>
<path d="M1200.60,448.10L1213.20,453.90M1200.60,448.10L1213.20,442.30M1200.60,448.10L1212.20,448.10" stroke-width="1.4"/>
<path d="M1200.60,448.10L1208.00,451.50L1209.40,448.10L1208.00,444.70Z" fill="#000" stroke="none"/>
<circle cx="1196.20" cy="448.10" r="4.1" fill="#fff" stroke-width="1.35"/>
<path d="M1171.30,553.40L1183.90,559.20M1171.30,553.40L1183.90,547.60M1171.30,553.40L1182.90,553.40" stroke-width="1.4"/>
<path d="M1171.30,553.40L1178.70,556.80L1180.10,553.40L1178.70,550.00Z" fill="#000" stroke="none"/>
<circle cx="1166.90" cy="553.40" r="4.1" fill="#fff" stroke-width="1.35"/>
<path d="M1124.70,658.80L1137.30,664.60M1124.70,658.80L1137.30,653.00M1124.70,658.80L1136.30,658.80" stroke-width="1.4"/>
<path d="M1124.70,658.80L1132.10,662.20L1133.50,658.80L1132.10,655.40Z" fill="#000" stroke="none"/>
<circle cx="1120.30" cy="658.80" r="4.1" fill="#fff" stroke-width="1.35"/>
<path d="M1124.70,658.80L1137.30,664.60M1124.70,658.80L1137.30,653.00M1124.70,658.80L1136.30,658.80" stroke-width="1.4"/>
<path d="M1124.70,658.80L1132.10,662.20L1133.50,658.80L1132.10,655.40Z" fill="#000" stroke="none"/>
<circle cx="1120.30" cy="658.80" r="4.1" fill="#fff" stroke-width="1.35"/>
<path d="M1124.70,658.80L1137.30,664.60M1124.70,658.80L1137.30,653.00M1124.70,658.80L1136.30,658.80" stroke-width="1.4"/>
<path d="M1124.70,658.80L1132.10,662.20L1133.50,658.80L1132.10,655.40Z" fill="#000" stroke="none"/>
<circle cx="1120.30" cy="658.80" r="4.1" fill="#fff" stroke-width="1.35"/>
<path d="M1079.00,764.00L1091.60,769.80M1079.00,764.00L1091.60,758.20M1079.00,764.00L1090.60,764.00" stroke-width="1.4"/>
<path d="M1079.00,764.00L1086.40,767.40L1087.80,764.00L1086.40,760.60Z" fill="#000" stroke="none"/>
<circle cx="1074.60" cy="764.00" r="4.1" fill="#fff" stroke-width="1.35"/>
<path d="M1173.90,869.50L1186.50,875.30M1173.90,869.50L1186.50,863.70M1173.90,869.50L1185.50,869.50" stroke-width="1.4"/>
<path d="M1173.90,869.50L1181.30,872.90L1182.70,869.50L1181.30,866.10Z" fill="#000" stroke="none"/>
<circle cx="1169.50" cy="869.50" r="4.1" fill="#fff" stroke-width="1.35"/>
<path d="M1185.90,974.90L1198.50,980.70M1185.90,974.90L1198.50,969.10M1185.90,974.90L1197.50,974.90" stroke-width="1.4"/>
<path d="M1185.90,974.90L1193.30,978.30L1194.70,974.90L1193.30,971.50Z" fill="#000" stroke="none"/>
<circle cx="1181.50" cy="974.90" r="4.1" fill="#fff" stroke-width="1.35"/>
<path d="M256.98,905.09L268.85,912.26M256.98,905.09L270.15,900.74M256.98,905.09L268.51,906.39" stroke-width="1.4"/>
<path d="M256.98,905.09L263.95,909.30L265.72,906.08L264.71,902.54Z" fill="#000" stroke="none"/>
<circle cx="252.61" cy="904.60" r="4.1" fill="#fff" stroke-width="1.35"/>
<path d="M257.02,907.80L268.72,915.25M257.02,907.80L270.28,903.75M257.02,907.80L268.51,909.37" stroke-width="1.4"/>
<path d="M257.02,907.80L263.89,912.17L265.73,908.99L264.81,905.43Z" fill="#000" stroke="none"/>
<circle cx="252.66" cy="907.21" r="4.1" fill="#fff" stroke-width="1.35"/>
<path d="M608.23,1235.00L619.49,1243.09M608.23,1235.00L621.71,1231.71M608.23,1235.00L619.62,1237.21" stroke-width="1.4"/>
<path d="M608.23,1235.00L614.85,1239.75L616.87,1236.68L616.14,1233.07Z" fill="#000" stroke="none"/>
<circle cx="603.91" cy="1234.16" r="4.1" fill="#fff" stroke-width="1.35"/>
<path d="M608.00,1354.95L620.67,1360.60M608.00,1354.95L620.53,1349.00M608.00,1354.95L619.60,1354.81" stroke-width="1.4"/>
<path d="M608.00,1354.95L615.44,1358.26L616.80,1354.84L615.36,1351.46Z" fill="#000" stroke="none"/>
<circle cx="603.60" cy="1355.00" r="4.1" fill="#fff" stroke-width="1.35"/>
<path d="M608.00,1384.50L620.74,1390.00M608.00,1384.50L620.46,1378.40M608.00,1384.50L619.60,1384.22" stroke-width="1.4"/>
<path d="M608.00,1384.50L615.48,1387.72L616.80,1384.29L615.32,1380.92Z" fill="#000" stroke="none"/>
<circle cx="603.60" cy="1384.60" r="4.1" fill="#fff" stroke-width="1.35"/>
<path d="M1160.62,2168.84L1172.90,2175.29M1160.62,2168.84L1173.50,2163.71M1160.62,2168.84L1172.20,2169.45" stroke-width="1.4"/>
<path d="M1160.62,2168.84L1167.83,2172.62L1169.41,2169.30L1168.18,2165.83Z" fill="#000" stroke="none"/>
<circle cx="1156.22" cy="2168.61" r="4.1" fill="#fff" stroke-width="1.35"/>
<path d="M1180.70,2274.90L1193.30,2280.70M1180.70,2274.90L1193.30,2269.10M1180.70,2274.90L1192.30,2274.90" stroke-width="1.4"/>
<path d="M1180.70,2274.90L1188.10,2278.30L1189.50,2274.90L1188.10,2271.50Z" fill="#000" stroke="none"/>
<circle cx="1176.30" cy="2274.90" r="4.1" fill="#fff" stroke-width="1.35"/>
<path d="M1214.00,2380.20L1226.60,2386.00M1214.00,2380.20L1226.60,2374.40M1214.00,2380.20L1225.60,2380.20" stroke-width="1.4"/>
<path d="M1214.00,2380.20L1221.40,2383.60L1222.80,2380.20L1221.40,2376.80Z" fill="#000" stroke="none"/>
<circle cx="1209.60" cy="2380.20" r="4.1" fill="#fff" stroke-width="1.35"/>
<path d="M1214.00,2380.20L1226.60,2386.00M1214.00,2380.20L1226.60,2374.40M1214.00,2380.20L1225.60,2380.20" stroke-width="1.4"/>
<path d="M1214.00,2380.20L1221.40,2383.60L1222.80,2380.20L1221.40,2376.80Z" fill="#000" stroke="none"/>
<circle cx="1209.60" cy="2380.20" r="4.1" fill="#fff" stroke-width="1.35"/>
<path d="M261.85,919.39L274.04,912.77M261.85,919.39L264.76,905.83M261.85,919.39L268.80,910.10" stroke-width="1.4"/>
<path d="M261.85,919.39L269.01,915.50L267.12,912.34L263.56,911.43Z" fill="#000" stroke="none"/>
<circle cx="259.22" cy="922.91" r="4.1" fill="#fff" stroke-width="1.35"/>
<path d="M608.44,1439.61L619.09,1448.50M608.44,1439.61L622.11,1437.30M608.44,1439.61L619.63,1442.64" stroke-width="1.4"/>
<path d="M608.44,1439.61L614.69,1444.82L616.93,1441.91L616.47,1438.26Z" fill="#000" stroke="none"/>
<circle cx="604.19" cy="1438.46" r="4.1" fill="#fff" stroke-width="1.35"/>
<path d="M608.23,1205.70L619.49,1213.79M608.23,1205.70L621.71,1202.41M608.23,1205.70L619.62,1207.91" stroke-width="1.4"/>
<path d="M608.23,1205.70L614.85,1210.45L616.87,1207.38L616.14,1203.77Z" fill="#000" stroke="none"/>
<circle cx="603.91" cy="1204.86" r="4.1" fill="#fff" stroke-width="1.35"/>
<path d="M608.35,1263.85L619.24,1272.44M608.35,1263.85L621.96,1261.16M608.35,1263.85L619.63,1266.57" stroke-width="1.4"/>
<path d="M608.35,1263.85L614.75,1268.89L616.91,1265.91L616.34,1262.28Z" fill="#000" stroke="none"/>
<circle cx="604.07" cy="1262.81" r="4.1" fill="#fff" stroke-width="1.35"/>
<path d="M608.55,1292.41L618.90,1301.65M608.55,1292.41L622.30,1290.55M608.55,1292.41L619.64,1295.81" stroke-width="1.4"/>
<path d="M608.55,1292.41L614.63,1297.83L616.97,1294.99L616.62,1291.33Z" fill="#000" stroke="none"/>
<circle cx="604.34" cy="1291.13" r="4.1" fill="#fff" stroke-width="1.35"/>
<path d="M608.05,1324.39L620.09,1331.28M608.05,1324.39L621.11,1319.72M608.05,1324.39L619.60,1325.41" stroke-width="1.4"/>
<path d="M608.05,1324.39L615.12,1328.43L616.81,1325.17L615.72,1321.66Z" fill="#000" stroke="none"/>
<circle cx="603.67" cy="1324.01" r="4.1" fill="#fff" stroke-width="1.35"/>
<path d="M608.17,1415.55L621.54,1419.22M608.17,1415.55L619.66,1407.78M608.17,1415.55L619.61,1413.66" stroke-width="1.4"/>
<path d="M608.17,1415.55L616.02,1417.70L616.85,1414.12L614.92,1410.99Z" fill="#000" stroke="none"/>
<circle cx="603.83" cy="1416.26" r="4.1" fill="#fff" stroke-width="1.35"/>
<path d="M608.04,1179.66L621.04,1184.48M608.04,1179.66L620.16,1172.92M608.04,1179.66L619.60,1178.78" stroke-width="1.4"/>
<path d="M608.04,1179.66L615.67,1182.49L616.81,1178.99L615.16,1175.71Z" fill="#000" stroke="none"/>
<circle cx="603.65" cy="1180.00" r="4.1" fill="#fff" stroke-width="1.35"/>
<path d="M608.16,1503.61L621.53,1507.33M608.16,1503.61L619.67,1495.87M608.16,1503.61L619.61,1501.76" stroke-width="1.4"/>
<path d="M608.16,1503.61L616.01,1505.79L616.85,1502.21L614.92,1499.07Z" fill="#000" stroke="none"/>
<circle cx="603.82" cy="1504.31" r="4.1" fill="#fff" stroke-width="1.35"/>
<path d="M286.11,1667.75L297.84,1675.15M286.11,1667.75L299.36,1663.65M286.11,1667.75L297.61,1669.27" stroke-width="1.4"/>
<path d="M286.11,1667.75L293.00,1672.09L294.83,1668.90L293.89,1665.35Z" fill="#000" stroke="none"/>
<circle cx="281.75" cy="1667.18" r="4.1" fill="#fff" stroke-width="1.35"/>
<path d="M1196.70,95.90L1209.30,101.70M1196.70,95.90L1209.30,90.10M1196.70,95.90L1208.30,95.90" stroke-width="1.4"/>
<path d="M1196.70,95.90L1204.10,99.30L1205.50,95.90L1204.10,92.50Z" fill="#000" stroke="none"/>
<circle cx="1192.30" cy="95.90" r="4.1" fill="#fff" stroke-width="1.35"/>
<path d="M1183.10,237.30L1195.70,243.10M1183.10,237.30L1195.70,231.50M1183.10,237.30L1194.70,237.30" stroke-width="1.4"/>
<path d="M1183.10,237.30L1190.50,240.70L1191.90,237.30L1190.50,233.90Z" fill="#000" stroke="none"/>
<circle cx="1178.70" cy="237.30" r="4.1" fill="#fff" stroke-width="1.35"/>
<path d="M1186.00,342.80L1198.60,348.60M1186.00,342.80L1198.60,337.00M1186.00,342.80L1197.60,342.80" stroke-width="1.4"/>
<path d="M1186.00,342.80L1193.40,346.20L1194.80,342.80L1193.40,339.40Z" fill="#000" stroke="none"/>
<circle cx="1181.60" cy="342.80" r="4.1" fill="#fff" stroke-width="1.35"/>
<path d="M1200.60,448.10L1213.20,453.90M1200.60,448.10L1213.20,442.30M1200.60,448.10L1212.20,448.10" stroke-width="1.4"/>
<path d="M1200.60,448.10L1208.00,451.50L1209.40,448.10L1208.00,444.70Z" fill="#000" stroke="none"/>
<circle cx="1196.20" cy="448.10" r="4.1" fill="#fff" stroke-width="1.35"/>
<path d="M1171.30,553.40L1183.90,559.20M1171.30,553.40L1183.90,547.60M1171.30,553.40L1182.90,553.40" stroke-width="1.4"/>
<path d="M1171.30,553.40L1178.70,556.80L1180.10,553.40L1178.70,550.00Z" fill="#000" stroke="none"/>
<circle cx="1166.90" cy="553.40" r="4.1" fill="#fff" stroke-width="1.35"/>
<path d="M1124.70,658.80L1137.30,664.60M1124.70,658.80L1137.30,653.00M1124.70,658.80L1136.30,658.80" stroke-width="1.4"/>
<path d="M1124.70,658.80L1132.10,662.20L1133.50,658.80L1132.10,655.40Z" fill="#000" stroke="none"/>
<circle cx="1120.30" cy="658.80" r="4.1" fill="#fff" stroke-width="1.35"/>
<path d="M1079.00,764.00L1091.60,769.80M1079.00,764.00L1091.60,758.20M1079.00,764.00L1090.60,764.00" stroke-width="1.4"/>
<path d="M1079.00,764.00L1086.40,767.40L1087.80,764.00L1086.40,760.60Z" fill="#000" stroke="none"/>
<circle cx="1074.60" cy="764.00" r="4.1" fill="#fff" stroke-width="1.35"/>
<path d="M1173.90,869.50L1186.50,875.30M1173.90,869.50L1186.50,863.70M1173.90,869.50L1185.50,869.50" stroke-width="1.4"/>
<path d="M1173.90,869.50L1181.30,872.90L1182.70,869.50L1181.30,866.10Z" fill="#000" stroke="none"/>
<circle cx="1169.50" cy="869.50" r="4.1" fill="#fff" stroke-width="1.35"/>
<path d="M1185.90,974.90L1198.50,980.70M1185.90,974.90L1198.50,969.10M1185.90,974.90L1197.50,974.90" stroke-width="1.4"/>
<path d="M1185.90,974.90L1193.30,978.30L1194.70,974.90L1193.30,971.50Z" fill="#000" stroke="none"/>
<circle cx="1181.50" cy="974.90" r="4.1" fill="#fff" stroke-width="1.35"/>
<path d="M1196.80,1080.20L1209.40,1086.00M1196.80,1080.20L1209.40,1074.40M1196.80,1080.20L1208.40,1080.20" stroke-width="1.4"/>
<path d="M1196.80,1080.20L1204.20,1083.60L1205.60,1080.20L1204.20,1076.80Z" fill="#000" stroke="none"/>
<circle cx="1192.40" cy="1080.20" r="4.1" fill="#fff" stroke-width="1.35"/>
<path d="M1182.10,1185.50L1194.70,1191.30M1182.10,1185.50L1194.70,1179.70M1182.10,1185.50L1193.70,1185.50" stroke-width="1.4"/>
<path d="M1182.10,1185.50L1189.50,1188.90L1190.90,1185.50L1189.50,1182.10Z" fill="#000" stroke="none"/>
<circle cx="1177.70" cy="1185.50" r="4.1" fill="#fff" stroke-width="1.35"/>
<path d="M1186.00,1290.90L1198.60,1296.70M1186.00,1290.90L1198.60,1285.10M1186.00,1290.90L1197.60,1290.90" stroke-width="1.4"/>
<path d="M1186.00,1290.90L1193.40,1294.30L1194.80,1290.90L1193.40,1287.50Z" fill="#000" stroke="none"/>
<circle cx="1181.60" cy="1290.90" r="4.1" fill="#fff" stroke-width="1.35"/>
<path d="M1148.50,1396.13L1157.20,1396.20M1153.16,1401.17L1153.24,1391.17" stroke-width="2.2"/>
<circle cx="1144.90" cy="1396.10" r="3.6" fill="#fff" stroke-width="1.4"/>
<path d="M1211.10,1501.50L1223.70,1507.30M1211.10,1501.50L1223.70,1495.70M1211.10,1501.50L1222.70,1501.50" stroke-width="1.4"/>
<path d="M1211.10,1501.50L1218.50,1504.90L1219.90,1501.50L1218.50,1498.10Z" fill="#000" stroke="none"/>
<circle cx="1206.70" cy="1501.50" r="4.1" fill="#fff" stroke-width="1.35"/>
<path d="M1127.20,1606.80L1139.80,1612.60M1127.20,1606.80L1139.80,1601.00M1127.20,1606.80L1138.80,1606.80" stroke-width="1.4"/>
<path d="M1127.20,1606.80L1134.60,1610.20L1136.00,1606.80L1134.60,1603.40Z" fill="#000" stroke="none"/>
<circle cx="1122.80" cy="1606.80" r="4.1" fill="#fff" stroke-width="1.35"/>
<path d="M1104.00,1707.79L1113.77,1717.63M1104.00,1707.79L1117.83,1706.77M1104.00,1707.79L1114.86,1711.85" stroke-width="1.4"/>
<path d="M1104.00,1707.79L1109.74,1713.57L1112.24,1710.87L1112.12,1707.20Z" fill="#000" stroke="none"/>
<circle cx="1099.87" cy="1706.25" r="4.1" fill="#fff" stroke-width="1.35"/>
<path d="M1198.10,1817.40L1210.70,1823.20M1198.10,1817.40L1210.70,1811.60M1198.10,1817.40L1209.70,1817.40" stroke-width="1.4"/>
<path d="M1198.10,1817.40L1205.50,1820.80L1206.90,1817.40L1205.50,1814.00Z" fill="#000" stroke="none"/>
<circle cx="1193.70" cy="1817.40" r="4.1" fill="#fff" stroke-width="1.35"/>
<path d="M1600.41,1192.67L1614.05,1190.14M1600.41,1192.67L1607.35,1180.66M1600.41,1192.67L1609.88,1185.98" stroke-width="1.4"/>
<path d="M1600.41,1192.67L1608.42,1191.18L1607.60,1187.59L1604.49,1185.63Z" fill="#000" stroke="none"/>
<circle cx="1596.82" cy="1195.22" r="4.1" fill="#fff" stroke-width="1.35"/>
<path d="M1210.00,1958.70L1222.60,1964.50M1210.00,1958.70L1222.60,1952.90M1210.00,1958.70L1221.60,1958.70" stroke-width="1.4"/>
<path d="M1210.00,1958.70L1217.40,1962.10L1218.80,1958.70L1217.40,1955.30Z" fill="#000" stroke="none"/>
<circle cx="1205.60" cy="1958.70" r="4.1" fill="#fff" stroke-width="1.35"/>
<path d="M1195.30,2064.10L1207.90,2069.90M1195.30,2064.10L1207.90,2058.30M1195.30,2064.10L1206.90,2064.10" stroke-width="1.4"/>
<path d="M1195.30,2064.10L1202.70,2067.50L1204.10,2064.10L1202.70,2060.70Z" fill="#000" stroke="none"/>
<circle cx="1190.90" cy="2064.10" r="4.1" fill="#fff" stroke-width="1.35"/>
<path d="M1160.62,2168.84L1172.90,2175.29M1160.62,2168.84L1173.50,2163.71M1160.62,2168.84L1172.20,2169.45" stroke-width="1.4"/>
<path d="M1160.62,2168.84L1167.83,2172.62L1169.41,2169.30L1168.18,2165.83Z" fill="#000" stroke="none"/>
<circle cx="1156.22" cy="2168.61" r="4.1" fill="#fff" stroke-width="1.35"/>
<path d="M1180.70,2274.90L1193.30,2280.70M1180.70,2274.90L1193.30,2269.10M1180.70,2274.90L1192.30,2274.90" stroke-width="1.4"/>
<path d="M1180.70,2274.90L1188.10,2278.30L1189.50,2274.90L1188.10,2271.50Z" fill="#000" stroke="none"/>
<circle cx="1176.30" cy="2274.90" r="4.1" fill="#fff" stroke-width="1.35"/>
<path d="M1214.00,2380.20L1226.60,2386.00M1214.00,2380.20L1226.60,2374.40M1214.00,2380.20L1225.60,2380.20" stroke-width="1.4"/>
<path d="M1214.00,2380.20L1221.40,2383.60L1222.80,2380.20L1221.40,2376.80Z" fill="#000" stroke="none"/>
<circle cx="1209.60" cy="2380.20" r="4.1" fill="#fff" stroke-width="1.35"/>
<path d="M1091.22,2511.00L1095.13,2524.31M1091.22,2511.00L1103.87,2516.69M1091.22,2511.00L1098.84,2519.75" stroke-width="1.4"/>
<path d="M1091.22,2511.00L1093.52,2518.82L1097.00,2517.64L1098.65,2514.35Z" fill="#000" stroke="none"/>
<circle cx="1088.33" cy="2507.69" r="4.1" fill="#fff" stroke-width="1.35"/>
<path d="M1087.40,2549.50L1100.14,2555.00M1087.40,2549.50L1099.86,2543.40M1087.40,2549.50L1099.00,2549.22" stroke-width="1.4"/>
<path d="M1087.40,2549.50L1094.88,2552.72L1096.20,2549.29L1094.72,2545.92Z" fill="#000" stroke="none"/>
<circle cx="1083.00" cy="2549.60" r="4.1" fill="#fff" stroke-width="1.35"/>
<path d="M1598.10,1185.40L1610.70,1191.20M1598.10,1185.40L1610.70,1179.60M1598.10,1185.40L1609.70,1185.40" stroke-width="1.4"/>
<path d="M1598.10,1185.40L1605.50,1188.80L1606.90,1185.40L1605.50,1182.00Z" fill="#000" stroke="none"/>
<circle cx="1593.70" cy="1185.40" r="4.1" fill="#fff" stroke-width="1.35"/>
</g></svg></body></html>
